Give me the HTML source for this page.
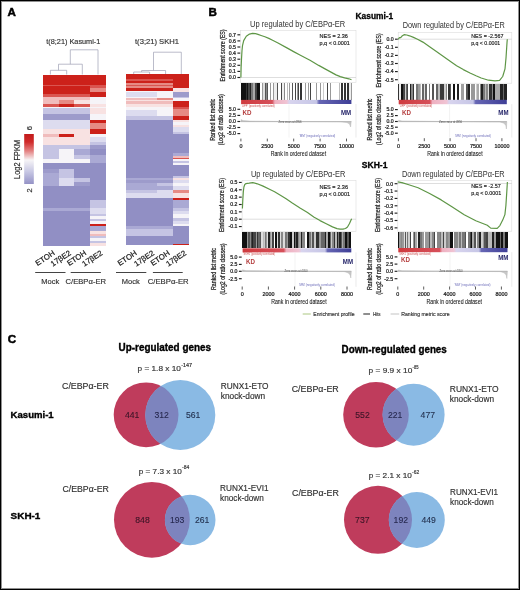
<!DOCTYPE html><html><head><meta charset="utf-8"><style>html,body{margin:0;padding:0;background:#fff;}svg{display:block;will-change:transform;}text{font-family:"Liberation Sans",sans-serif;}</style></head><body>
<svg width="520" height="590" viewBox="0 0 520 590">
<rect x="0" y="0" width="520" height="590" fill="#fff"/>
<text x="7.4" y="15.8" font-size="11.6" text-anchor="start" font-weight="bold" fill="#000" stroke="#000" stroke-width="0.5">A</text>
<text x="73.3" y="44.3" font-size="7.5" text-anchor="middle" fill="#333" textLength="54" lengthAdjust="spacingAndGlyphs" stroke="#333" stroke-width="0.16">t(8;21) Kasumi-1</text>
<text x="157" y="44.3" font-size="7.5" text-anchor="middle" fill="#333" textLength="44" lengthAdjust="spacingAndGlyphs" stroke="#333" stroke-width="0.16">t(3;21) SKH1</text>
<path d="M70.3 64.2 V49.8 H98 V74.5 M58.5 70.3 V64.2 H82.3 V74.5 M50.4 74.5 V70.3 H66.7 V74.5" stroke="#a4a6b8" stroke-width="0.75" fill="none"/>
<path d="M153.5 70.5 V52.2 H181.3 V74.3 M141.6 72 V70.5 H165.6 V74.3 M133.7 74.3 V72 H149.6 V74.3" stroke="#a4a6b8" stroke-width="0.75" fill="none"/>
<rect x="43.20" y="74.5" width="15.68" height="10.05" fill="#cc211a" shape-rendering="crispEdges"/>
<rect x="58.83" y="74.5" width="15.68" height="10.05" fill="#cc211a" shape-rendering="crispEdges"/>
<rect x="74.45" y="74.5" width="15.68" height="10.05" fill="#cc211a" shape-rendering="crispEdges"/>
<rect x="90.08" y="74.5" width="15.68" height="10.05" fill="#cc211a" shape-rendering="crispEdges"/>
<rect x="43.20" y="84.5" width="15.68" height="1.05" fill="#da5550" shape-rendering="crispEdges"/>
<rect x="58.83" y="84.5" width="15.68" height="1.05" fill="#da5550" shape-rendering="crispEdges"/>
<rect x="74.45" y="84.5" width="15.68" height="1.05" fill="#da5550" shape-rendering="crispEdges"/>
<rect x="90.08" y="84.5" width="15.68" height="1.05" fill="#da5550" shape-rendering="crispEdges"/>
<rect x="43.20" y="85.5" width="15.68" height="2.55" fill="#cc211a" shape-rendering="crispEdges"/>
<rect x="58.83" y="85.5" width="15.68" height="2.55" fill="#cc211a" shape-rendering="crispEdges"/>
<rect x="74.45" y="85.5" width="15.68" height="2.55" fill="#cc211a" shape-rendering="crispEdges"/>
<rect x="90.08" y="85.5" width="15.68" height="2.55" fill="#da5550" shape-rendering="crispEdges"/>
<rect x="43.20" y="88" width="15.68" height="3.55" fill="#cc211a" shape-rendering="crispEdges"/>
<rect x="58.83" y="88" width="15.68" height="3.55" fill="#cc211a" shape-rendering="crispEdges"/>
<rect x="74.45" y="88" width="15.68" height="3.55" fill="#cc211a" shape-rendering="crispEdges"/>
<rect x="90.08" y="88" width="15.68" height="3.55" fill="#e68a84" shape-rendering="crispEdges"/>
<rect x="43.20" y="91.5" width="15.68" height="2.15" fill="#cc211a" shape-rendering="crispEdges"/>
<rect x="58.83" y="91.5" width="15.68" height="2.15" fill="#cc211a" shape-rendering="crispEdges"/>
<rect x="74.45" y="91.5" width="15.68" height="2.15" fill="#cc211a" shape-rendering="crispEdges"/>
<rect x="90.08" y="91.5" width="15.68" height="2.15" fill="#cc211a" shape-rendering="crispEdges"/>
<rect x="43.20" y="93.6" width="15.68" height="3.85" fill="#da5550" shape-rendering="crispEdges"/>
<rect x="58.83" y="93.6" width="15.68" height="3.85" fill="#da5550" shape-rendering="crispEdges"/>
<rect x="74.45" y="93.6" width="15.68" height="3.85" fill="#da5550" shape-rendering="crispEdges"/>
<rect x="90.08" y="93.6" width="15.68" height="3.85" fill="#cc211a" shape-rendering="crispEdges"/>
<rect x="43.20" y="97.4" width="15.68" height="2.35" fill="#f0bcbc" shape-rendering="crispEdges"/>
<rect x="58.83" y="97.4" width="15.68" height="2.35" fill="#f0bcbc" shape-rendering="crispEdges"/>
<rect x="74.45" y="97.4" width="15.68" height="2.35" fill="#f0bcbc" shape-rendering="crispEdges"/>
<rect x="90.08" y="97.4" width="15.68" height="2.35" fill="#f6f4f8" shape-rendering="crispEdges"/>
<rect x="43.20" y="99.7" width="15.68" height="3.85" fill="#f0bcbc" shape-rendering="crispEdges"/>
<rect x="58.83" y="99.7" width="15.68" height="3.85" fill="#e68a84" shape-rendering="crispEdges"/>
<rect x="74.45" y="99.7" width="15.68" height="3.85" fill="#f8e2e2" shape-rendering="crispEdges"/>
<rect x="90.08" y="99.7" width="15.68" height="3.85" fill="#f6f4f8" shape-rendering="crispEdges"/>
<rect x="43.20" y="103.5" width="15.68" height="3.85" fill="#da5550" shape-rendering="crispEdges"/>
<rect x="58.83" y="103.5" width="15.68" height="3.85" fill="#cc211a" shape-rendering="crispEdges"/>
<rect x="74.45" y="103.5" width="15.68" height="3.85" fill="#da5550" shape-rendering="crispEdges"/>
<rect x="90.08" y="103.5" width="15.68" height="3.85" fill="#f8e2e2" shape-rendering="crispEdges"/>
<rect x="43.20" y="107.3" width="15.68" height="0.75" fill="#f6f4f8" shape-rendering="crispEdges"/>
<rect x="58.83" y="107.3" width="15.68" height="0.75" fill="#f6f4f8" shape-rendering="crispEdges"/>
<rect x="74.45" y="107.3" width="15.68" height="0.75" fill="#f6f4f8" shape-rendering="crispEdges"/>
<rect x="90.08" y="107.3" width="15.68" height="0.75" fill="#f6f4f8" shape-rendering="crispEdges"/>
<rect x="43.20" y="108" width="15.68" height="6.05" fill="#c5c4e3" shape-rendering="crispEdges"/>
<rect x="58.83" y="108" width="15.68" height="6.05" fill="#c5c4e3" shape-rendering="crispEdges"/>
<rect x="74.45" y="108" width="15.68" height="6.05" fill="#c5c4e3" shape-rendering="crispEdges"/>
<rect x="90.08" y="108" width="15.68" height="6.05" fill="#f8e2e2" shape-rendering="crispEdges"/>
<rect x="43.20" y="114" width="15.68" height="6.35" fill="#9d9bcb" shape-rendering="crispEdges"/>
<rect x="58.83" y="114" width="15.68" height="6.35" fill="#9d9bcb" shape-rendering="crispEdges"/>
<rect x="74.45" y="114" width="15.68" height="6.35" fill="#9d9bcb" shape-rendering="crispEdges"/>
<rect x="90.08" y="114" width="15.68" height="6.35" fill="#f6f4f8" shape-rendering="crispEdges"/>
<rect x="43.20" y="120.3" width="15.68" height="2.35" fill="#dddcef" shape-rendering="crispEdges"/>
<rect x="58.83" y="120.3" width="15.68" height="2.35" fill="#dddcef" shape-rendering="crispEdges"/>
<rect x="74.45" y="120.3" width="15.68" height="2.35" fill="#dddcef" shape-rendering="crispEdges"/>
<rect x="90.08" y="120.3" width="15.68" height="2.35" fill="#cc211a" shape-rendering="crispEdges"/>
<rect x="43.20" y="122.6" width="15.68" height="6.15" fill="#dddcef" shape-rendering="crispEdges"/>
<rect x="58.83" y="122.6" width="15.68" height="6.15" fill="#dddcef" shape-rendering="crispEdges"/>
<rect x="74.45" y="122.6" width="15.68" height="6.15" fill="#dddcef" shape-rendering="crispEdges"/>
<rect x="90.08" y="122.6" width="15.68" height="6.15" fill="#e68a84" shape-rendering="crispEdges"/>
<rect x="43.20" y="128.7" width="15.68" height="5.35" fill="#f8e2e2" shape-rendering="crispEdges"/>
<rect x="58.83" y="128.7" width="15.68" height="5.35" fill="#f8e2e2" shape-rendering="crispEdges"/>
<rect x="74.45" y="128.7" width="15.68" height="5.35" fill="#f8e2e2" shape-rendering="crispEdges"/>
<rect x="90.08" y="128.7" width="15.68" height="5.35" fill="#cc211a" shape-rendering="crispEdges"/>
<rect x="43.20" y="134" width="15.68" height="3.05" fill="#f0bcbc" shape-rendering="crispEdges"/>
<rect x="58.83" y="134" width="15.68" height="3.05" fill="#cc211a" shape-rendering="crispEdges"/>
<rect x="74.45" y="134" width="15.68" height="3.05" fill="#f8e2e2" shape-rendering="crispEdges"/>
<rect x="90.08" y="134" width="15.68" height="3.05" fill="#f6f4f8" shape-rendering="crispEdges"/>
<rect x="43.20" y="137" width="15.68" height="4.65" fill="#f8e2e2" shape-rendering="crispEdges"/>
<rect x="58.83" y="137" width="15.68" height="4.65" fill="#f8e2e2" shape-rendering="crispEdges"/>
<rect x="74.45" y="137" width="15.68" height="4.65" fill="#f8e2e2" shape-rendering="crispEdges"/>
<rect x="90.08" y="137" width="15.68" height="4.65" fill="#dddcef" shape-rendering="crispEdges"/>
<rect x="43.20" y="141.6" width="15.68" height="3.15" fill="#f8e2e2" shape-rendering="crispEdges"/>
<rect x="58.83" y="141.6" width="15.68" height="3.15" fill="#f8e2e2" shape-rendering="crispEdges"/>
<rect x="74.45" y="141.6" width="15.68" height="3.15" fill="#f8e2e2" shape-rendering="crispEdges"/>
<rect x="90.08" y="141.6" width="15.68" height="3.15" fill="#c5c4e3" shape-rendering="crispEdges"/>
<rect x="43.20" y="144.7" width="15.68" height="4.65" fill="#c5c4e3" shape-rendering="crispEdges"/>
<rect x="58.83" y="144.7" width="15.68" height="4.65" fill="#c5c4e3" shape-rendering="crispEdges"/>
<rect x="74.45" y="144.7" width="15.68" height="4.65" fill="#c5c4e3" shape-rendering="crispEdges"/>
<rect x="90.08" y="144.7" width="15.68" height="4.65" fill="#9d9bcb" shape-rendering="crispEdges"/>
<rect x="43.20" y="149.3" width="15.68" height="5.75" fill="#c5c4e3" shape-rendering="crispEdges"/>
<rect x="58.83" y="149.3" width="15.68" height="5.75" fill="#f6f4f8" shape-rendering="crispEdges"/>
<rect x="74.45" y="149.3" width="15.68" height="5.75" fill="#aaa9d4" shape-rendering="crispEdges"/>
<rect x="90.08" y="149.3" width="15.68" height="5.75" fill="#918fc4" shape-rendering="crispEdges"/>
<rect x="43.20" y="155" width="15.68" height="4.05" fill="#c5c4e3" shape-rendering="crispEdges"/>
<rect x="58.83" y="155" width="15.68" height="4.05" fill="#f6f4f8" shape-rendering="crispEdges"/>
<rect x="74.45" y="155" width="15.68" height="4.05" fill="#c5c4e3" shape-rendering="crispEdges"/>
<rect x="90.08" y="155" width="15.68" height="4.05" fill="#aaa9d4" shape-rendering="crispEdges"/>
<rect x="43.20" y="159" width="15.68" height="4.05" fill="#f6f4f8" shape-rendering="crispEdges"/>
<rect x="58.83" y="159" width="15.68" height="4.05" fill="#f6f4f8" shape-rendering="crispEdges"/>
<rect x="74.45" y="159" width="15.68" height="4.05" fill="#f6f4f8" shape-rendering="crispEdges"/>
<rect x="90.08" y="159" width="15.68" height="4.05" fill="#aaa9d4" shape-rendering="crispEdges"/>
<rect x="43.20" y="163" width="15.68" height="5.75" fill="#918fc4" shape-rendering="crispEdges"/>
<rect x="58.83" y="163" width="15.68" height="5.75" fill="#918fc4" shape-rendering="crispEdges"/>
<rect x="74.45" y="163" width="15.68" height="5.75" fill="#918fc4" shape-rendering="crispEdges"/>
<rect x="90.08" y="163" width="15.68" height="5.75" fill="#918fc4" shape-rendering="crispEdges"/>
<rect x="43.20" y="168.7" width="15.68" height="4.05" fill="#9d9bcb" shape-rendering="crispEdges"/>
<rect x="58.83" y="168.7" width="15.68" height="4.05" fill="#c5c4e3" shape-rendering="crispEdges"/>
<rect x="74.45" y="168.7" width="15.68" height="4.05" fill="#918fc4" shape-rendering="crispEdges"/>
<rect x="90.08" y="168.7" width="15.68" height="4.05" fill="#918fc4" shape-rendering="crispEdges"/>
<rect x="43.20" y="172.7" width="15.68" height="4.85" fill="#aaa9d4" shape-rendering="crispEdges"/>
<rect x="58.83" y="172.7" width="15.68" height="4.85" fill="#c5c4e3" shape-rendering="crispEdges"/>
<rect x="74.45" y="172.7" width="15.68" height="4.85" fill="#918fc4" shape-rendering="crispEdges"/>
<rect x="90.08" y="172.7" width="15.68" height="4.85" fill="#918fc4" shape-rendering="crispEdges"/>
<rect x="43.20" y="177.5" width="15.68" height="4.15" fill="#aaa9d4" shape-rendering="crispEdges"/>
<rect x="58.83" y="177.5" width="15.68" height="4.15" fill="#dddcef" shape-rendering="crispEdges"/>
<rect x="74.45" y="177.5" width="15.68" height="4.15" fill="#c5c4e3" shape-rendering="crispEdges"/>
<rect x="90.08" y="177.5" width="15.68" height="4.15" fill="#918fc4" shape-rendering="crispEdges"/>
<rect x="43.20" y="181.6" width="15.68" height="4.85" fill="#aaa9d4" shape-rendering="crispEdges"/>
<rect x="58.83" y="181.6" width="15.68" height="4.85" fill="#dddcef" shape-rendering="crispEdges"/>
<rect x="74.45" y="181.6" width="15.68" height="4.85" fill="#9d9bcb" shape-rendering="crispEdges"/>
<rect x="90.08" y="181.6" width="15.68" height="4.85" fill="#918fc4" shape-rendering="crispEdges"/>
<rect x="43.20" y="186.4" width="15.68" height="13.65" fill="#918fc4" shape-rendering="crispEdges"/>
<rect x="58.83" y="186.4" width="15.68" height="13.65" fill="#918fc4" shape-rendering="crispEdges"/>
<rect x="74.45" y="186.4" width="15.68" height="13.65" fill="#918fc4" shape-rendering="crispEdges"/>
<rect x="90.08" y="186.4" width="15.68" height="13.65" fill="#918fc4" shape-rendering="crispEdges"/>
<rect x="43.20" y="200" width="15.68" height="8.05" fill="#918fc4" shape-rendering="crispEdges"/>
<rect x="58.83" y="200" width="15.68" height="8.05" fill="#918fc4" shape-rendering="crispEdges"/>
<rect x="74.45" y="200" width="15.68" height="8.05" fill="#918fc4" shape-rendering="crispEdges"/>
<rect x="90.08" y="200" width="15.68" height="8.05" fill="#c5c4e3" shape-rendering="crispEdges"/>
<rect x="43.20" y="208" width="15.68" height="2.55" fill="#aaa9d4" shape-rendering="crispEdges"/>
<rect x="58.83" y="208" width="15.68" height="2.55" fill="#aaa9d4" shape-rendering="crispEdges"/>
<rect x="74.45" y="208" width="15.68" height="2.55" fill="#aaa9d4" shape-rendering="crispEdges"/>
<rect x="90.08" y="208" width="15.68" height="2.55" fill="#dddcef" shape-rendering="crispEdges"/>
<rect x="43.20" y="210.5" width="15.68" height="3.55" fill="#918fc4" shape-rendering="crispEdges"/>
<rect x="58.83" y="210.5" width="15.68" height="3.55" fill="#918fc4" shape-rendering="crispEdges"/>
<rect x="74.45" y="210.5" width="15.68" height="3.55" fill="#918fc4" shape-rendering="crispEdges"/>
<rect x="90.08" y="210.5" width="15.68" height="3.55" fill="#dddcef" shape-rendering="crispEdges"/>
<rect x="43.20" y="214" width="15.68" height="2.05" fill="#918fc4" shape-rendering="crispEdges"/>
<rect x="58.83" y="214" width="15.68" height="2.05" fill="#918fc4" shape-rendering="crispEdges"/>
<rect x="74.45" y="214" width="15.68" height="2.05" fill="#918fc4" shape-rendering="crispEdges"/>
<rect x="90.08" y="214" width="15.68" height="2.05" fill="#c5c4e3" shape-rendering="crispEdges"/>
<rect x="43.20" y="216" width="15.68" height="3.05" fill="#918fc4" shape-rendering="crispEdges"/>
<rect x="58.83" y="216" width="15.68" height="3.05" fill="#918fc4" shape-rendering="crispEdges"/>
<rect x="74.45" y="216" width="15.68" height="3.05" fill="#918fc4" shape-rendering="crispEdges"/>
<rect x="90.08" y="216" width="15.68" height="3.05" fill="#f6f4f8" shape-rendering="crispEdges"/>
<rect x="43.20" y="219" width="15.68" height="2.05" fill="#918fc4" shape-rendering="crispEdges"/>
<rect x="58.83" y="219" width="15.68" height="2.05" fill="#918fc4" shape-rendering="crispEdges"/>
<rect x="74.45" y="219" width="15.68" height="2.05" fill="#918fc4" shape-rendering="crispEdges"/>
<rect x="90.08" y="219" width="15.68" height="2.05" fill="#c5c4e3" shape-rendering="crispEdges"/>
<rect x="43.20" y="221" width="15.68" height="3.05" fill="#918fc4" shape-rendering="crispEdges"/>
<rect x="58.83" y="221" width="15.68" height="3.05" fill="#918fc4" shape-rendering="crispEdges"/>
<rect x="74.45" y="221" width="15.68" height="3.05" fill="#918fc4" shape-rendering="crispEdges"/>
<rect x="90.08" y="221" width="15.68" height="3.05" fill="#f6f4f8" shape-rendering="crispEdges"/>
<rect x="43.20" y="224" width="15.68" height="2.05" fill="#918fc4" shape-rendering="crispEdges"/>
<rect x="58.83" y="224" width="15.68" height="2.05" fill="#918fc4" shape-rendering="crispEdges"/>
<rect x="74.45" y="224" width="15.68" height="2.05" fill="#918fc4" shape-rendering="crispEdges"/>
<rect x="90.08" y="224" width="15.68" height="2.05" fill="#cc211a" shape-rendering="crispEdges"/>
<rect x="43.20" y="226" width="15.68" height="4.75" fill="#918fc4" shape-rendering="crispEdges"/>
<rect x="58.83" y="226" width="15.68" height="4.75" fill="#918fc4" shape-rendering="crispEdges"/>
<rect x="74.45" y="226" width="15.68" height="4.75" fill="#918fc4" shape-rendering="crispEdges"/>
<rect x="90.08" y="226" width="15.68" height="4.75" fill="#aaa9d4" shape-rendering="crispEdges"/>
<rect x="43.20" y="230.7" width="15.68" height="3.25" fill="#918fc4" shape-rendering="crispEdges"/>
<rect x="58.83" y="230.7" width="15.68" height="3.25" fill="#918fc4" shape-rendering="crispEdges"/>
<rect x="74.45" y="230.7" width="15.68" height="3.25" fill="#918fc4" shape-rendering="crispEdges"/>
<rect x="90.08" y="230.7" width="15.68" height="3.25" fill="#f8e2e2" shape-rendering="crispEdges"/>
<rect x="43.20" y="233.9" width="15.68" height="1.65" fill="#918fc4" shape-rendering="crispEdges"/>
<rect x="58.83" y="233.9" width="15.68" height="1.65" fill="#918fc4" shape-rendering="crispEdges"/>
<rect x="74.45" y="233.9" width="15.68" height="1.65" fill="#918fc4" shape-rendering="crispEdges"/>
<rect x="90.08" y="233.9" width="15.68" height="1.65" fill="#f0bcbc" shape-rendering="crispEdges"/>
<rect x="43.20" y="235.5" width="15.68" height="2.55" fill="#918fc4" shape-rendering="crispEdges"/>
<rect x="58.83" y="235.5" width="15.68" height="2.55" fill="#918fc4" shape-rendering="crispEdges"/>
<rect x="74.45" y="235.5" width="15.68" height="2.55" fill="#918fc4" shape-rendering="crispEdges"/>
<rect x="90.08" y="235.5" width="15.68" height="2.55" fill="#c5c4e3" shape-rendering="crispEdges"/>
<rect x="43.20" y="238" width="15.68" height="3.05" fill="#918fc4" shape-rendering="crispEdges"/>
<rect x="58.83" y="238" width="15.68" height="3.05" fill="#918fc4" shape-rendering="crispEdges"/>
<rect x="74.45" y="238" width="15.68" height="3.05" fill="#918fc4" shape-rendering="crispEdges"/>
<rect x="90.08" y="238" width="15.68" height="3.05" fill="#f6f4f8" shape-rendering="crispEdges"/>
<rect x="43.20" y="241" width="15.68" height="2.05" fill="#918fc4" shape-rendering="crispEdges"/>
<rect x="58.83" y="241" width="15.68" height="2.05" fill="#918fc4" shape-rendering="crispEdges"/>
<rect x="74.45" y="241" width="15.68" height="2.05" fill="#918fc4" shape-rendering="crispEdges"/>
<rect x="90.08" y="241" width="15.68" height="2.05" fill="#c5c4e3" shape-rendering="crispEdges"/>
<rect x="43.20" y="243" width="15.68" height="2.55" fill="#918fc4" shape-rendering="crispEdges"/>
<rect x="58.83" y="243" width="15.68" height="2.55" fill="#918fc4" shape-rendering="crispEdges"/>
<rect x="74.45" y="243" width="15.68" height="2.55" fill="#918fc4" shape-rendering="crispEdges"/>
<rect x="90.08" y="243" width="15.68" height="2.55" fill="#f8e2e2" shape-rendering="crispEdges"/>
<rect x="125.80" y="74.3" width="15.88" height="4.85" fill="#cc211a" shape-rendering="crispEdges"/>
<rect x="141.62" y="74.3" width="15.88" height="4.85" fill="#cc211a" shape-rendering="crispEdges"/>
<rect x="157.45" y="74.3" width="15.88" height="4.85" fill="#cc211a" shape-rendering="crispEdges"/>
<rect x="173.27" y="74.3" width="15.88" height="4.85" fill="#cc211a" shape-rendering="crispEdges"/>
<rect x="125.80" y="79.1" width="15.88" height="2.35" fill="#da5550" shape-rendering="crispEdges"/>
<rect x="141.62" y="79.1" width="15.88" height="2.35" fill="#da5550" shape-rendering="crispEdges"/>
<rect x="157.45" y="79.1" width="15.88" height="2.35" fill="#da5550" shape-rendering="crispEdges"/>
<rect x="173.27" y="79.1" width="15.88" height="2.35" fill="#cc211a" shape-rendering="crispEdges"/>
<rect x="125.80" y="81.4" width="15.88" height="1.65" fill="#cc211a" shape-rendering="crispEdges"/>
<rect x="141.62" y="81.4" width="15.88" height="1.65" fill="#cc211a" shape-rendering="crispEdges"/>
<rect x="157.45" y="81.4" width="15.88" height="1.65" fill="#cc211a" shape-rendering="crispEdges"/>
<rect x="173.27" y="81.4" width="15.88" height="1.65" fill="#cc211a" shape-rendering="crispEdges"/>
<rect x="125.80" y="83" width="15.88" height="2.25" fill="#e68a84" shape-rendering="crispEdges"/>
<rect x="141.62" y="83" width="15.88" height="2.25" fill="#e68a84" shape-rendering="crispEdges"/>
<rect x="157.45" y="83" width="15.88" height="2.25" fill="#e68a84" shape-rendering="crispEdges"/>
<rect x="173.27" y="83" width="15.88" height="2.25" fill="#cc211a" shape-rendering="crispEdges"/>
<rect x="125.80" y="85.2" width="15.88" height="0.85" fill="#da5550" shape-rendering="crispEdges"/>
<rect x="141.62" y="85.2" width="15.88" height="0.85" fill="#da5550" shape-rendering="crispEdges"/>
<rect x="157.45" y="85.2" width="15.88" height="0.85" fill="#da5550" shape-rendering="crispEdges"/>
<rect x="173.27" y="85.2" width="15.88" height="0.85" fill="#cc211a" shape-rendering="crispEdges"/>
<rect x="125.80" y="86" width="15.88" height="1.55" fill="#e68a84" shape-rendering="crispEdges"/>
<rect x="141.62" y="86" width="15.88" height="1.55" fill="#e68a84" shape-rendering="crispEdges"/>
<rect x="157.45" y="86" width="15.88" height="1.55" fill="#e68a84" shape-rendering="crispEdges"/>
<rect x="173.27" y="86" width="15.88" height="1.55" fill="#cc211a" shape-rendering="crispEdges"/>
<rect x="125.80" y="87.5" width="15.88" height="0.85" fill="#cc211a" shape-rendering="crispEdges"/>
<rect x="141.62" y="87.5" width="15.88" height="0.85" fill="#cc211a" shape-rendering="crispEdges"/>
<rect x="157.45" y="87.5" width="15.88" height="0.85" fill="#cc211a" shape-rendering="crispEdges"/>
<rect x="173.27" y="87.5" width="15.88" height="0.85" fill="#cc211a" shape-rendering="crispEdges"/>
<rect x="125.80" y="88.3" width="15.88" height="2.35" fill="#cc211a" shape-rendering="crispEdges"/>
<rect x="141.62" y="88.3" width="15.88" height="2.35" fill="#cc211a" shape-rendering="crispEdges"/>
<rect x="157.45" y="88.3" width="15.88" height="2.35" fill="#cc211a" shape-rendering="crispEdges"/>
<rect x="173.27" y="88.3" width="15.88" height="2.35" fill="#f8e2e2" shape-rendering="crispEdges"/>
<rect x="125.80" y="90.6" width="15.88" height="1.55" fill="#f6f4f8" shape-rendering="crispEdges"/>
<rect x="141.62" y="90.6" width="15.88" height="1.55" fill="#f6f4f8" shape-rendering="crispEdges"/>
<rect x="157.45" y="90.6" width="15.88" height="1.55" fill="#f6f4f8" shape-rendering="crispEdges"/>
<rect x="173.27" y="90.6" width="15.88" height="1.55" fill="#f8e2e2" shape-rendering="crispEdges"/>
<rect x="125.80" y="92.1" width="15.88" height="4.65" fill="#dddcef" shape-rendering="crispEdges"/>
<rect x="141.62" y="92.1" width="15.88" height="4.65" fill="#dddcef" shape-rendering="crispEdges"/>
<rect x="157.45" y="92.1" width="15.88" height="4.65" fill="#f6f4f8" shape-rendering="crispEdges"/>
<rect x="173.27" y="92.1" width="15.88" height="4.65" fill="#9d9bcb" shape-rendering="crispEdges"/>
<rect x="125.80" y="96.7" width="15.88" height="1.55" fill="#f6f4f8" shape-rendering="crispEdges"/>
<rect x="141.62" y="96.7" width="15.88" height="1.55" fill="#f6f4f8" shape-rendering="crispEdges"/>
<rect x="157.45" y="96.7" width="15.88" height="1.55" fill="#f6f4f8" shape-rendering="crispEdges"/>
<rect x="173.27" y="96.7" width="15.88" height="1.55" fill="#c5c4e3" shape-rendering="crispEdges"/>
<rect x="125.80" y="98.2" width="15.88" height="1.55" fill="#f0bcbc" shape-rendering="crispEdges"/>
<rect x="141.62" y="98.2" width="15.88" height="1.55" fill="#f0bcbc" shape-rendering="crispEdges"/>
<rect x="157.45" y="98.2" width="15.88" height="1.55" fill="#e68a84" shape-rendering="crispEdges"/>
<rect x="173.27" y="98.2" width="15.88" height="1.55" fill="#f6f4f8" shape-rendering="crispEdges"/>
<rect x="125.80" y="99.7" width="15.88" height="1.65" fill="#f8e2e2" shape-rendering="crispEdges"/>
<rect x="141.62" y="99.7" width="15.88" height="1.65" fill="#f8e2e2" shape-rendering="crispEdges"/>
<rect x="157.45" y="99.7" width="15.88" height="1.65" fill="#f8e2e2" shape-rendering="crispEdges"/>
<rect x="173.27" y="99.7" width="15.88" height="1.65" fill="#f6f4f8" shape-rendering="crispEdges"/>
<rect x="125.80" y="101.3" width="15.88" height="3.05" fill="#f0bcbc" shape-rendering="crispEdges"/>
<rect x="141.62" y="101.3" width="15.88" height="3.05" fill="#f0bcbc" shape-rendering="crispEdges"/>
<rect x="157.45" y="101.3" width="15.88" height="3.05" fill="#f0bcbc" shape-rendering="crispEdges"/>
<rect x="173.27" y="101.3" width="15.88" height="3.05" fill="#cc211a" shape-rendering="crispEdges"/>
<rect x="125.80" y="104.3" width="15.88" height="2.35" fill="#f8e2e2" shape-rendering="crispEdges"/>
<rect x="141.62" y="104.3" width="15.88" height="2.35" fill="#f8e2e2" shape-rendering="crispEdges"/>
<rect x="157.45" y="104.3" width="15.88" height="2.35" fill="#f8e2e2" shape-rendering="crispEdges"/>
<rect x="173.27" y="104.3" width="15.88" height="2.35" fill="#cc211a" shape-rendering="crispEdges"/>
<rect x="125.80" y="106.6" width="15.88" height="2.35" fill="#f6f4f8" shape-rendering="crispEdges"/>
<rect x="141.62" y="106.6" width="15.88" height="2.35" fill="#f6f4f8" shape-rendering="crispEdges"/>
<rect x="157.45" y="106.6" width="15.88" height="2.35" fill="#f6f4f8" shape-rendering="crispEdges"/>
<rect x="173.27" y="106.6" width="15.88" height="2.35" fill="#da5550" shape-rendering="crispEdges"/>
<rect x="125.80" y="108.9" width="15.88" height="1.55" fill="#f6f4f8" shape-rendering="crispEdges"/>
<rect x="141.62" y="108.9" width="15.88" height="1.55" fill="#f6f4f8" shape-rendering="crispEdges"/>
<rect x="157.45" y="108.9" width="15.88" height="1.55" fill="#f6f4f8" shape-rendering="crispEdges"/>
<rect x="173.27" y="108.9" width="15.88" height="1.55" fill="#e68a84" shape-rendering="crispEdges"/>
<rect x="125.80" y="110.4" width="15.88" height="5.35" fill="#dddcef" shape-rendering="crispEdges"/>
<rect x="141.62" y="110.4" width="15.88" height="5.35" fill="#dddcef" shape-rendering="crispEdges"/>
<rect x="157.45" y="110.4" width="15.88" height="5.35" fill="#f6f4f8" shape-rendering="crispEdges"/>
<rect x="173.27" y="110.4" width="15.88" height="5.35" fill="#e68a84" shape-rendering="crispEdges"/>
<rect x="125.80" y="115.7" width="15.88" height="3.85" fill="#c5c4e3" shape-rendering="crispEdges"/>
<rect x="141.62" y="115.7" width="15.88" height="3.85" fill="#c5c4e3" shape-rendering="crispEdges"/>
<rect x="157.45" y="115.7" width="15.88" height="3.85" fill="#c5c4e3" shape-rendering="crispEdges"/>
<rect x="173.27" y="115.7" width="15.88" height="3.85" fill="#cc211a" shape-rendering="crispEdges"/>
<rect x="125.80" y="119.5" width="15.88" height="2.05" fill="#918fc4" shape-rendering="crispEdges"/>
<rect x="141.62" y="119.5" width="15.88" height="2.05" fill="#918fc4" shape-rendering="crispEdges"/>
<rect x="157.45" y="119.5" width="15.88" height="2.05" fill="#918fc4" shape-rendering="crispEdges"/>
<rect x="173.27" y="119.5" width="15.88" height="2.05" fill="#f8e2e2" shape-rendering="crispEdges"/>
<rect x="125.80" y="121.5" width="15.88" height="3.35" fill="#918fc4" shape-rendering="crispEdges"/>
<rect x="141.62" y="121.5" width="15.88" height="3.35" fill="#918fc4" shape-rendering="crispEdges"/>
<rect x="157.45" y="121.5" width="15.88" height="3.35" fill="#918fc4" shape-rendering="crispEdges"/>
<rect x="173.27" y="121.5" width="15.88" height="3.35" fill="#f6f4f8" shape-rendering="crispEdges"/>
<rect x="125.80" y="124.8" width="15.88" height="2.65" fill="#918fc4" shape-rendering="crispEdges"/>
<rect x="141.62" y="124.8" width="15.88" height="2.65" fill="#918fc4" shape-rendering="crispEdges"/>
<rect x="157.45" y="124.8" width="15.88" height="2.65" fill="#918fc4" shape-rendering="crispEdges"/>
<rect x="173.27" y="124.8" width="15.88" height="2.65" fill="#f8e2e2" shape-rendering="crispEdges"/>
<rect x="125.80" y="127.4" width="15.88" height="4.65" fill="#918fc4" shape-rendering="crispEdges"/>
<rect x="141.62" y="127.4" width="15.88" height="4.65" fill="#918fc4" shape-rendering="crispEdges"/>
<rect x="157.45" y="127.4" width="15.88" height="4.65" fill="#918fc4" shape-rendering="crispEdges"/>
<rect x="173.27" y="127.4" width="15.88" height="4.65" fill="#dddcef" shape-rendering="crispEdges"/>
<rect x="125.80" y="132" width="15.88" height="2.05" fill="#918fc4" shape-rendering="crispEdges"/>
<rect x="141.62" y="132" width="15.88" height="2.05" fill="#918fc4" shape-rendering="crispEdges"/>
<rect x="157.45" y="132" width="15.88" height="2.05" fill="#918fc4" shape-rendering="crispEdges"/>
<rect x="173.27" y="132" width="15.88" height="2.05" fill="#c5c4e3" shape-rendering="crispEdges"/>
<rect x="125.80" y="134" width="15.88" height="19.05" fill="#918fc4" shape-rendering="crispEdges"/>
<rect x="141.62" y="134" width="15.88" height="19.05" fill="#918fc4" shape-rendering="crispEdges"/>
<rect x="157.45" y="134" width="15.88" height="19.05" fill="#918fc4" shape-rendering="crispEdges"/>
<rect x="173.27" y="134" width="15.88" height="19.05" fill="#918fc4" shape-rendering="crispEdges"/>
<rect x="125.80" y="153" width="15.88" height="3.05" fill="#918fc4" shape-rendering="crispEdges"/>
<rect x="141.62" y="153" width="15.88" height="3.05" fill="#918fc4" shape-rendering="crispEdges"/>
<rect x="157.45" y="153" width="15.88" height="3.05" fill="#918fc4" shape-rendering="crispEdges"/>
<rect x="173.27" y="153" width="15.88" height="3.05" fill="#aaa9d4" shape-rendering="crispEdges"/>
<rect x="125.80" y="156" width="15.88" height="2.05" fill="#918fc4" shape-rendering="crispEdges"/>
<rect x="141.62" y="156" width="15.88" height="2.05" fill="#918fc4" shape-rendering="crispEdges"/>
<rect x="157.45" y="156" width="15.88" height="2.05" fill="#918fc4" shape-rendering="crispEdges"/>
<rect x="173.27" y="156" width="15.88" height="2.05" fill="#f0bcbc" shape-rendering="crispEdges"/>
<rect x="125.80" y="158" width="15.88" height="1.45" fill="#918fc4" shape-rendering="crispEdges"/>
<rect x="141.62" y="158" width="15.88" height="1.45" fill="#918fc4" shape-rendering="crispEdges"/>
<rect x="157.45" y="158" width="15.88" height="1.45" fill="#918fc4" shape-rendering="crispEdges"/>
<rect x="173.27" y="158" width="15.88" height="1.45" fill="#da5550" shape-rendering="crispEdges"/>
<rect x="125.80" y="159.4" width="15.88" height="1.35" fill="#918fc4" shape-rendering="crispEdges"/>
<rect x="141.62" y="159.4" width="15.88" height="1.35" fill="#918fc4" shape-rendering="crispEdges"/>
<rect x="157.45" y="159.4" width="15.88" height="1.35" fill="#918fc4" shape-rendering="crispEdges"/>
<rect x="173.27" y="159.4" width="15.88" height="1.35" fill="#f6f4f8" shape-rendering="crispEdges"/>
<rect x="125.80" y="160.7" width="15.88" height="2.05" fill="#918fc4" shape-rendering="crispEdges"/>
<rect x="141.62" y="160.7" width="15.88" height="2.05" fill="#918fc4" shape-rendering="crispEdges"/>
<rect x="157.45" y="160.7" width="15.88" height="2.05" fill="#918fc4" shape-rendering="crispEdges"/>
<rect x="173.27" y="160.7" width="15.88" height="2.05" fill="#c5c4e3" shape-rendering="crispEdges"/>
<rect x="125.80" y="162.7" width="15.88" height="2.65" fill="#918fc4" shape-rendering="crispEdges"/>
<rect x="141.62" y="162.7" width="15.88" height="2.65" fill="#918fc4" shape-rendering="crispEdges"/>
<rect x="157.45" y="162.7" width="15.88" height="2.65" fill="#918fc4" shape-rendering="crispEdges"/>
<rect x="173.27" y="162.7" width="15.88" height="2.65" fill="#f6f4f8" shape-rendering="crispEdges"/>
<rect x="125.80" y="165.3" width="15.88" height="11.15" fill="#918fc4" shape-rendering="crispEdges"/>
<rect x="141.62" y="165.3" width="15.88" height="11.15" fill="#918fc4" shape-rendering="crispEdges"/>
<rect x="157.45" y="165.3" width="15.88" height="11.15" fill="#918fc4" shape-rendering="crispEdges"/>
<rect x="173.27" y="165.3" width="15.88" height="11.15" fill="#918fc4" shape-rendering="crispEdges"/>
<rect x="125.80" y="176.4" width="15.88" height="1.35" fill="#918fc4" shape-rendering="crispEdges"/>
<rect x="141.62" y="176.4" width="15.88" height="1.35" fill="#918fc4" shape-rendering="crispEdges"/>
<rect x="157.45" y="176.4" width="15.88" height="1.35" fill="#918fc4" shape-rendering="crispEdges"/>
<rect x="173.27" y="176.4" width="15.88" height="1.35" fill="#c5c4e3" shape-rendering="crispEdges"/>
<rect x="125.80" y="177.7" width="15.88" height="2.75" fill="#aaa9d4" shape-rendering="crispEdges"/>
<rect x="141.62" y="177.7" width="15.88" height="2.75" fill="#aaa9d4" shape-rendering="crispEdges"/>
<rect x="157.45" y="177.7" width="15.88" height="2.75" fill="#aaa9d4" shape-rendering="crispEdges"/>
<rect x="173.27" y="177.7" width="15.88" height="2.75" fill="#f8e2e2" shape-rendering="crispEdges"/>
<rect x="125.80" y="180.4" width="15.88" height="2.95" fill="#9d9bcb" shape-rendering="crispEdges"/>
<rect x="141.62" y="180.4" width="15.88" height="2.95" fill="#9d9bcb" shape-rendering="crispEdges"/>
<rect x="157.45" y="180.4" width="15.88" height="2.95" fill="#9d9bcb" shape-rendering="crispEdges"/>
<rect x="173.27" y="180.4" width="15.88" height="2.95" fill="#dddcef" shape-rendering="crispEdges"/>
<rect x="125.80" y="183.3" width="15.88" height="2.65" fill="#aaa9d4" shape-rendering="crispEdges"/>
<rect x="141.62" y="183.3" width="15.88" height="2.65" fill="#aaa9d4" shape-rendering="crispEdges"/>
<rect x="157.45" y="183.3" width="15.88" height="2.65" fill="#c5c4e3" shape-rendering="crispEdges"/>
<rect x="173.27" y="183.3" width="15.88" height="2.65" fill="#f6f4f8" shape-rendering="crispEdges"/>
<rect x="125.80" y="185.9" width="15.88" height="3.95" fill="#aaa9d4" shape-rendering="crispEdges"/>
<rect x="141.62" y="185.9" width="15.88" height="3.95" fill="#aaa9d4" shape-rendering="crispEdges"/>
<rect x="157.45" y="185.9" width="15.88" height="3.95" fill="#aaa9d4" shape-rendering="crispEdges"/>
<rect x="173.27" y="185.9" width="15.88" height="3.95" fill="#dddcef" shape-rendering="crispEdges"/>
<rect x="125.80" y="189.8" width="15.88" height="3.25" fill="#c5c4e3" shape-rendering="crispEdges"/>
<rect x="141.62" y="189.8" width="15.88" height="3.25" fill="#c5c4e3" shape-rendering="crispEdges"/>
<rect x="157.45" y="189.8" width="15.88" height="3.25" fill="#dddcef" shape-rendering="crispEdges"/>
<rect x="173.27" y="189.8" width="15.88" height="3.25" fill="#e68a84" shape-rendering="crispEdges"/>
<rect x="125.80" y="193" width="15.88" height="4.65" fill="#dddcef" shape-rendering="crispEdges"/>
<rect x="141.62" y="193" width="15.88" height="4.65" fill="#dddcef" shape-rendering="crispEdges"/>
<rect x="157.45" y="193" width="15.88" height="4.65" fill="#dddcef" shape-rendering="crispEdges"/>
<rect x="173.27" y="193" width="15.88" height="4.65" fill="#f8e2e2" shape-rendering="crispEdges"/>
<rect x="125.80" y="197.6" width="15.88" height="2.05" fill="#918fc4" shape-rendering="crispEdges"/>
<rect x="141.62" y="197.6" width="15.88" height="2.05" fill="#918fc4" shape-rendering="crispEdges"/>
<rect x="157.45" y="197.6" width="15.88" height="2.05" fill="#918fc4" shape-rendering="crispEdges"/>
<rect x="173.27" y="197.6" width="15.88" height="2.05" fill="#cc211a" shape-rendering="crispEdges"/>
<rect x="125.80" y="199.6" width="15.88" height="8.55" fill="#918fc4" shape-rendering="crispEdges"/>
<rect x="141.62" y="199.6" width="15.88" height="8.55" fill="#918fc4" shape-rendering="crispEdges"/>
<rect x="157.45" y="199.6" width="15.88" height="8.55" fill="#918fc4" shape-rendering="crispEdges"/>
<rect x="173.27" y="199.6" width="15.88" height="8.55" fill="#aaa9d4" shape-rendering="crispEdges"/>
<rect x="125.80" y="208.1" width="15.88" height="2.65" fill="#918fc4" shape-rendering="crispEdges"/>
<rect x="141.62" y="208.1" width="15.88" height="2.65" fill="#918fc4" shape-rendering="crispEdges"/>
<rect x="157.45" y="208.1" width="15.88" height="2.65" fill="#918fc4" shape-rendering="crispEdges"/>
<rect x="173.27" y="208.1" width="15.88" height="2.65" fill="#c5c4e3" shape-rendering="crispEdges"/>
<rect x="125.80" y="210.7" width="15.88" height="3.35" fill="#918fc4" shape-rendering="crispEdges"/>
<rect x="141.62" y="210.7" width="15.88" height="3.35" fill="#918fc4" shape-rendering="crispEdges"/>
<rect x="157.45" y="210.7" width="15.88" height="3.35" fill="#918fc4" shape-rendering="crispEdges"/>
<rect x="173.27" y="210.7" width="15.88" height="3.35" fill="#dddcef" shape-rendering="crispEdges"/>
<rect x="125.80" y="214" width="15.88" height="3.95" fill="#918fc4" shape-rendering="crispEdges"/>
<rect x="141.62" y="214" width="15.88" height="3.95" fill="#918fc4" shape-rendering="crispEdges"/>
<rect x="157.45" y="214" width="15.88" height="3.95" fill="#918fc4" shape-rendering="crispEdges"/>
<rect x="173.27" y="214" width="15.88" height="3.95" fill="#f6f4f8" shape-rendering="crispEdges"/>
<rect x="125.80" y="217.9" width="15.88" height="2.65" fill="#918fc4" shape-rendering="crispEdges"/>
<rect x="141.62" y="217.9" width="15.88" height="2.65" fill="#918fc4" shape-rendering="crispEdges"/>
<rect x="157.45" y="217.9" width="15.88" height="2.65" fill="#918fc4" shape-rendering="crispEdges"/>
<rect x="173.27" y="217.9" width="15.88" height="2.65" fill="#c5c4e3" shape-rendering="crispEdges"/>
<rect x="125.80" y="220.5" width="15.88" height="3.95" fill="#918fc4" shape-rendering="crispEdges"/>
<rect x="141.62" y="220.5" width="15.88" height="3.95" fill="#918fc4" shape-rendering="crispEdges"/>
<rect x="157.45" y="220.5" width="15.88" height="3.95" fill="#918fc4" shape-rendering="crispEdges"/>
<rect x="173.27" y="220.5" width="15.88" height="3.95" fill="#dddcef" shape-rendering="crispEdges"/>
<rect x="125.80" y="224.4" width="15.88" height="2.05" fill="#918fc4" shape-rendering="crispEdges"/>
<rect x="141.62" y="224.4" width="15.88" height="2.05" fill="#918fc4" shape-rendering="crispEdges"/>
<rect x="157.45" y="224.4" width="15.88" height="2.05" fill="#918fc4" shape-rendering="crispEdges"/>
<rect x="173.27" y="224.4" width="15.88" height="2.05" fill="#f6f4f8" shape-rendering="crispEdges"/>
<rect x="125.80" y="226.4" width="15.88" height="2.65" fill="#aaa9d4" shape-rendering="crispEdges"/>
<rect x="141.62" y="226.4" width="15.88" height="2.65" fill="#aaa9d4" shape-rendering="crispEdges"/>
<rect x="157.45" y="226.4" width="15.88" height="2.65" fill="#aaa9d4" shape-rendering="crispEdges"/>
<rect x="173.27" y="226.4" width="15.88" height="2.65" fill="#918fc4" shape-rendering="crispEdges"/>
<rect x="125.80" y="229" width="15.88" height="7.25" fill="#c5c4e3" shape-rendering="crispEdges"/>
<rect x="141.62" y="229" width="15.88" height="7.25" fill="#c5c4e3" shape-rendering="crispEdges"/>
<rect x="157.45" y="229" width="15.88" height="7.25" fill="#c5c4e3" shape-rendering="crispEdges"/>
<rect x="173.27" y="229" width="15.88" height="7.25" fill="#918fc4" shape-rendering="crispEdges"/>
<rect x="125.80" y="236.2" width="15.88" height="7.85" fill="#918fc4" shape-rendering="crispEdges"/>
<rect x="141.62" y="236.2" width="15.88" height="7.85" fill="#918fc4" shape-rendering="crispEdges"/>
<rect x="157.45" y="236.2" width="15.88" height="7.85" fill="#918fc4" shape-rendering="crispEdges"/>
<rect x="173.27" y="236.2" width="15.88" height="7.85" fill="#918fc4" shape-rendering="crispEdges"/>
<rect x="125.80" y="244" width="15.88" height="1.45" fill="#918fc4" shape-rendering="crispEdges"/>
<rect x="141.62" y="244" width="15.88" height="1.45" fill="#918fc4" shape-rendering="crispEdges"/>
<rect x="157.45" y="244" width="15.88" height="1.45" fill="#918fc4" shape-rendering="crispEdges"/>
<rect x="173.27" y="244" width="15.88" height="1.45" fill="#cc211a" shape-rendering="crispEdges"/>
<defs><linearGradient id="lg" x1="0" y1="0" x2="0" y2="1"><stop offset="0" stop-color="#c21a1a"/><stop offset="0.16" stop-color="#d02a2a"/><stop offset="0.34" stop-color="#e48282"/><stop offset="0.52" stop-color="#f6f4f6"/><stop offset="0.75" stop-color="#c8c8e4"/><stop offset="1" stop-color="#9492c6"/></linearGradient></defs>
<rect x="24.2" y="134" width="9.6" height="50" fill="url(#lg)"/>
<text x="0" y="0" font-size="7.5" text-anchor="middle" fill="#333" stroke="#333" stroke-width="0.16" transform="translate(31.6,128.2) rotate(-90)">6</text>
<text x="0" y="0" font-size="7.5" text-anchor="middle" fill="#333" stroke="#333" stroke-width="0.16" transform="translate(31.6,190.3) rotate(-90)">2</text>
<text x="0" y="0" font-size="8.2" text-anchor="middle" fill="#2a2a2a" textLength="39" lengthAdjust="spacingAndGlyphs" stroke="#2a2a2a" stroke-width="0.16" transform="translate(19.6,159.4) rotate(-90)">Log2 FPKM</text>
<text x="0" y="0" font-size="7.7" text-anchor="end" fill="#1a1a1a" stroke="#1a1a1a" stroke-width="0.22" transform="translate(55.3,254.3) rotate(-33.5)">ETOH</text>
<text x="0" y="0" font-size="7.7" text-anchor="end" fill="#1a1a1a" stroke="#1a1a1a" stroke-width="0.22" transform="translate(71.5,254.3) rotate(-33.5)">17βE2</text>
<text x="0" y="0" font-size="7.7" text-anchor="end" fill="#1a1a1a" stroke="#1a1a1a" stroke-width="0.22" transform="translate(86.9,254.3) rotate(-33.5)">ETOH</text>
<text x="0" y="0" font-size="7.7" text-anchor="end" fill="#1a1a1a" stroke="#1a1a1a" stroke-width="0.22" transform="translate(103.0,254.3) rotate(-33.5)">17βE2</text>
<text x="0" y="0" font-size="7.7" text-anchor="end" fill="#1a1a1a" stroke="#1a1a1a" stroke-width="0.22" transform="translate(137.5,254.3) rotate(-33.5)">ETOH</text>
<text x="0" y="0" font-size="7.7" text-anchor="end" fill="#1a1a1a" stroke="#1a1a1a" stroke-width="0.22" transform="translate(154.8,254.3) rotate(-33.5)">17βE2</text>
<text x="0" y="0" font-size="7.7" text-anchor="end" fill="#1a1a1a" stroke="#1a1a1a" stroke-width="0.22" transform="translate(170.4,254.3) rotate(-33.5)">ETOH</text>
<text x="0" y="0" font-size="7.7" text-anchor="end" fill="#1a1a1a" stroke="#1a1a1a" stroke-width="0.22" transform="translate(186.8,254.3) rotate(-33.5)">17βE2</text>
<path d="M35.2 272.5 H65.5 M70.7 272.5 H100.9 M116 272.5 H146.3 M152.9 272.5 H182.7" stroke="#444" stroke-width="1.1"/>
<text x="50.3" y="284" font-size="7.5" text-anchor="middle" fill="#333" stroke="#333" stroke-width="0.16">Mock</text>
<text x="85.8" y="284" font-size="7.5" text-anchor="middle" fill="#333" textLength="40.5" lengthAdjust="spacingAndGlyphs" stroke="#333" stroke-width="0.16">C/EBPα-ER</text>
<text x="130.8" y="284" font-size="7.5" text-anchor="middle" fill="#333" stroke="#333" stroke-width="0.16">Mock</text>
<text x="168.2" y="284" font-size="7.5" text-anchor="middle" fill="#333" textLength="41" lengthAdjust="spacingAndGlyphs" stroke="#333" stroke-width="0.16">C/EBPα-ER</text>
<text x="208.5" y="15.7" font-size="11.6" text-anchor="start" font-weight="bold" fill="#000" stroke="#000" stroke-width="0.5">B</text>
<text x="355.6" y="18.6" font-size="8.3" text-anchor="start" font-weight="bold" fill="#000" textLength="37.6" lengthAdjust="spacingAndGlyphs" stroke="#000" stroke-width="0.3">Kasumi-1</text>
<text x="361.8" y="167.7" font-size="8.3" text-anchor="start" font-weight="bold" fill="#000" textLength="25.6" lengthAdjust="spacingAndGlyphs" stroke="#000" stroke-width="0.3">SKH-1</text>
<text x="297.65" y="27.3" font-size="8.2" text-anchor="middle" fill="#333" textLength="95.3" lengthAdjust="spacingAndGlyphs">Up regulated by C/EBPα-ER</text>
<rect x="240.6" y="30.6" width="115.4" height="51.800000000000004" fill="none" stroke="#dcdcdc" stroke-width="0.6"/>
<line x1="240.6" y1="77.5" x2="356" y2="77.5" stroke="#c8c8c8" stroke-width="0.6"/>
<line x1="237.4" y1="34.8" x2="240.2" y2="34.8" stroke="#222" stroke-width="1.15"/>
<text x="236.0" y="36.599999999999994" font-size="5.2" text-anchor="end" fill="#1a1a1a" stroke="#1a1a1a" stroke-width="0.22">0.7</text>
<line x1="237.4" y1="40.9" x2="240.2" y2="40.9" stroke="#222" stroke-width="1.15"/>
<text x="236.0" y="42.699999999999996" font-size="5.2" text-anchor="end" fill="#1a1a1a" stroke="#1a1a1a" stroke-width="0.22">0.6</text>
<line x1="237.4" y1="47.0" x2="240.2" y2="47.0" stroke="#222" stroke-width="1.15"/>
<text x="236.0" y="48.8" font-size="5.2" text-anchor="end" fill="#1a1a1a" stroke="#1a1a1a" stroke-width="0.22">0.5</text>
<line x1="237.4" y1="53.1" x2="240.2" y2="53.1" stroke="#222" stroke-width="1.15"/>
<text x="236.0" y="54.9" font-size="5.2" text-anchor="end" fill="#1a1a1a" stroke="#1a1a1a" stroke-width="0.22">0.4</text>
<line x1="237.4" y1="59.2" x2="240.2" y2="59.2" stroke="#222" stroke-width="1.15"/>
<text x="236.0" y="61.0" font-size="5.2" text-anchor="end" fill="#1a1a1a" stroke="#1a1a1a" stroke-width="0.22">0.3</text>
<line x1="237.4" y1="65.3" x2="240.2" y2="65.3" stroke="#222" stroke-width="1.15"/>
<text x="236.0" y="67.1" font-size="5.2" text-anchor="end" fill="#1a1a1a" stroke="#1a1a1a" stroke-width="0.22">0.2</text>
<line x1="237.4" y1="71.4" x2="240.2" y2="71.4" stroke="#222" stroke-width="1.15"/>
<text x="236.0" y="73.2" font-size="5.2" text-anchor="end" fill="#1a1a1a" stroke="#1a1a1a" stroke-width="0.22">0.1</text>
<line x1="237.4" y1="77.5" x2="240.2" y2="77.5" stroke="#222" stroke-width="1.15"/>
<text x="236.0" y="79.3" font-size="5.2" text-anchor="end" fill="#1a1a1a" stroke="#1a1a1a" stroke-width="0.22">0.0</text>
<polyline points="240.9,77.5 241.1,68 241.5,59 242,50.5 242.5,45.6 243.7,40.6 246.3,36.2 249.5,34.1 252.5,33.3 255.5,33.7 258,34.4 261.1,35.5 264.9,36.8 268.8,38.4 272.6,40.3 278,43 286.9,47.9 293.6,51.6 300.4,55.2 307.1,58.7 310,60.2 318.7,65.4 327.3,70.1 336,74.9 340.3,76.6 344.6,77.9 348.9,78.8 351.5,79.7" fill="none" stroke="#5e9646" stroke-width="1.2" stroke-linejoin="round"/>
<rect x="241.0" y="83.2" width="5.05" height="16.700000000000003" fill="#111" shape-rendering="crispEdges"/>
<rect x="246.0" y="83.2" width="1.05" height="16.700000000000003" fill="#333" shape-rendering="crispEdges"/>
<rect x="247.0" y="83.2" width="1.05" height="16.700000000000003" fill="#111" shape-rendering="crispEdges"/>
<rect x="248.0" y="83.2" width="2.05" height="16.700000000000003" fill="#444" shape-rendering="crispEdges"/>
<rect x="250.0" y="83.2" width="1.05" height="16.700000000000003" fill="#222" shape-rendering="crispEdges"/>
<rect x="251.0" y="83.2" width="2.05" height="16.700000000000003" fill="#777" shape-rendering="crispEdges"/>
<rect x="253.0" y="83.2" width="2.05" height="16.700000000000003" fill="#aaa" shape-rendering="crispEdges"/>
<rect x="255.0" y="83.2" width="2.05" height="16.700000000000003" fill="#444" shape-rendering="crispEdges"/>
<rect x="257.0" y="83.2" width="3.05" height="16.700000000000003" fill="#111" shape-rendering="crispEdges"/>
<rect x="262.0" y="83.2" width="1.05" height="16.700000000000003" fill="#999" shape-rendering="crispEdges"/>
<rect x="263.0" y="83.2" width="2.05" height="16.700000000000003" fill="#ddd" shape-rendering="crispEdges"/>
<rect x="265.0" y="83.2" width="1.05" height="16.700000000000003" fill="#555" shape-rendering="crispEdges"/>
<rect x="266.0" y="83.2" width="1.05" height="16.700000000000003" fill="#888" shape-rendering="crispEdges"/>
<rect x="267.0" y="83.2" width="1.05" height="16.700000000000003" fill="#555" shape-rendering="crispEdges"/>
<rect x="270.0" y="83.2" width="1.05" height="16.700000000000003" fill="#999" shape-rendering="crispEdges"/>
<rect x="273.0" y="83.2" width="1.05" height="16.700000000000003" fill="#999" shape-rendering="crispEdges"/>
<rect x="274.0" y="83.2" width="3.05" height="16.700000000000003" fill="#eee" shape-rendering="crispEdges"/>
<rect x="277.0" y="83.2" width="1.05" height="16.700000000000003" fill="#555" shape-rendering="crispEdges"/>
<rect x="281.0" y="83.2" width="1.05" height="16.700000000000003" fill="#444" shape-rendering="crispEdges"/>
<rect x="282.0" y="83.2" width="2.05" height="16.700000000000003" fill="#eee" shape-rendering="crispEdges"/>
<rect x="284.0" y="83.2" width="1.05" height="16.700000000000003" fill="#888" shape-rendering="crispEdges"/>
<rect x="287.0" y="83.2" width="1.05" height="16.700000000000003" fill="#bbb" shape-rendering="crispEdges"/>
<rect x="289.0" y="83.2" width="1.05" height="16.700000000000003" fill="#999" shape-rendering="crispEdges"/>
<rect x="292.0" y="83.2" width="1.05" height="16.700000000000003" fill="#555" shape-rendering="crispEdges"/>
<rect x="295.0" y="83.2" width="1.05" height="16.700000000000003" fill="#444" shape-rendering="crispEdges"/>
<rect x="297.0" y="83.2" width="1.05" height="16.700000000000003" fill="#999" shape-rendering="crispEdges"/>
<rect x="298.0" y="83.2" width="1.05" height="16.700000000000003" fill="#444" shape-rendering="crispEdges"/>
<rect x="300.0" y="83.2" width="2.05" height="16.700000000000003" fill="#333" shape-rendering="crispEdges"/>
<rect x="305.0" y="83.2" width="1.05" height="16.700000000000003" fill="#999" shape-rendering="crispEdges"/>
<rect x="308.0" y="83.2" width="1.05" height="16.700000000000003" fill="#999" shape-rendering="crispEdges"/>
<rect x="310.0" y="83.2" width="1.05" height="16.700000000000003" fill="#444" shape-rendering="crispEdges"/>
<rect x="316.0" y="83.2" width="1.05" height="16.700000000000003" fill="#999" shape-rendering="crispEdges"/>
<rect x="320.0" y="83.2" width="1.05" height="16.700000000000003" fill="#999" shape-rendering="crispEdges"/>
<rect x="323.0" y="83.2" width="1.05" height="16.700000000000003" fill="#ccc" shape-rendering="crispEdges"/>
<rect x="327.0" y="83.2" width="1.05" height="16.700000000000003" fill="#444" shape-rendering="crispEdges"/>
<rect x="330.0" y="83.2" width="1.05" height="16.700000000000003" fill="#999" shape-rendering="crispEdges"/>
<rect x="339.0" y="83.2" width="1.05" height="16.700000000000003" fill="#bbb" shape-rendering="crispEdges"/>
<rect x="341.0" y="83.2" width="1.55" height="16.700000000000003" fill="#333" shape-rendering="crispEdges"/>
<rect x="344.0" y="83.2" width="1.55" height="16.700000000000003" fill="#333" shape-rendering="crispEdges"/>
<rect x="347.0" y="83.2" width="1.55" height="16.700000000000003" fill="#333" shape-rendering="crispEdges"/>
<rect x="348.5" y="83.2" width="2.55" height="16.700000000000003" fill="#eee" shape-rendering="crispEdges"/>
<rect x="351.0" y="83.2" width="0.55" height="16.700000000000003" fill="#999" shape-rendering="crispEdges"/>
<defs><linearGradient id="cb1" x1="0" y1="0" x2="1" y2="0"><stop offset="0" stop-color="#cf3a3e"/><stop offset="0.282" stop-color="#d6505a"/><stop offset="0.306" stop-color="#eeb0c0"/><stop offset="0.413" stop-color="#f0c4d4"/><stop offset="0.437" stop-color="#d8d4ee"/><stop offset="0.683" stop-color="#c6c6e6"/><stop offset="0.707" stop-color="#6666b4"/><stop offset="1" stop-color="#3e3e96"/></linearGradient></defs>
<rect x="241.1" y="99.9" width="110.29999999999998" height="4.099999999999994" fill="url(#cb1)"/>
<text x="241.6" y="106.6" font-size="2.6" fill="#c84848" textLength="33" lengthAdjust="spacingAndGlyphs">'UPP' (positively correlated)</text>
<line x1="356" y1="104.0" x2="356" y2="137.5" stroke="#dcdcdc" stroke-width="0.6"/>
<polygon points="241,121.6 241,119.6 243,120.6 250,121.1 290,121.6 340,121.8 347,122.6 349.5,124 350.6,127 351.2,121.6" fill="#c8c8c8" stroke="#b0b0b0" stroke-width="0.4"/>
<line x1="240.6" y1="121.6" x2="351.4" y2="121.6" stroke="#aaa" stroke-width="0.6"/>
<line x1="289" y1="104.5" x2="289" y2="137.5" stroke="#e4e4e4" stroke-width="0.5"/>
<text x="278.5" y="122.6" font-size="3" fill="#444" textLength="23" lengthAdjust="spacingAndGlyphs">Zero cross at 4956</text>
<text x="299.3" y="137.0" font-size="2.6" fill="#6a6ab8" textLength="36" lengthAdjust="spacingAndGlyphs">'MM' (negatively correlated)</text>
<line x1="237.4" y1="109.3" x2="240.2" y2="109.3" stroke="#222" stroke-width="1.15"/>
<text x="236.0" y="111.1" font-size="5.2" text-anchor="end" fill="#1a1a1a" stroke="#1a1a1a" stroke-width="0.22">5.0</text>
<line x1="237.4" y1="115.4" x2="240.2" y2="115.4" stroke="#222" stroke-width="1.15"/>
<text x="236.0" y="117.2" font-size="5.2" text-anchor="end" fill="#1a1a1a" stroke="#1a1a1a" stroke-width="0.22">2.5</text>
<line x1="237.4" y1="121.5" x2="240.2" y2="121.5" stroke="#222" stroke-width="1.15"/>
<text x="236.0" y="123.3" font-size="5.2" text-anchor="end" fill="#1a1a1a" stroke="#1a1a1a" stroke-width="0.22">0.0</text>
<line x1="237.4" y1="127.5" x2="240.2" y2="127.5" stroke="#222" stroke-width="1.15"/>
<text x="236.0" y="129.3" font-size="5.2" text-anchor="end" fill="#1a1a1a" stroke="#1a1a1a" stroke-width="0.22">-2.5</text>
<line x1="237.4" y1="133.6" x2="240.2" y2="133.6" stroke="#222" stroke-width="1.15"/>
<text x="236.0" y="135.4" font-size="5.2" text-anchor="end" fill="#1a1a1a" stroke="#1a1a1a" stroke-width="0.22">-5.0</text>
<text x="242.5" y="115.0" font-size="6.4" text-anchor="start" font-weight="bold" fill="#b43c3c" textLength="9.0" lengthAdjust="spacingAndGlyphs">KD</text>
<text x="341" y="114.6" font-size="6.4" text-anchor="start" font-weight="bold" fill="#26266a" textLength="10.2" lengthAdjust="spacingAndGlyphs">MM</text>
<line x1="240.9" y1="138.6" x2="240.9" y2="141.4" stroke="#333" stroke-width="0.8"/>
<text x="240.9" y="147.6" font-size="5.4" text-anchor="middle" fill="#1a1a1a" textLength="3.0" lengthAdjust="spacingAndGlyphs" stroke="#1a1a1a" stroke-width="0.22">0</text>
<line x1="267.3" y1="138.6" x2="267.3" y2="141.4" stroke="#333" stroke-width="0.8"/>
<text x="267.3" y="147.6" font-size="5.4" text-anchor="middle" fill="#1a1a1a" textLength="12.0" lengthAdjust="spacingAndGlyphs" stroke="#1a1a1a" stroke-width="0.22">2500</text>
<line x1="293.7" y1="138.6" x2="293.7" y2="141.4" stroke="#333" stroke-width="0.8"/>
<text x="293.7" y="147.6" font-size="5.4" text-anchor="middle" fill="#1a1a1a" textLength="12.0" lengthAdjust="spacingAndGlyphs" stroke="#1a1a1a" stroke-width="0.22">5000</text>
<line x1="320.1" y1="138.6" x2="320.1" y2="141.4" stroke="#333" stroke-width="0.8"/>
<text x="320.1" y="147.6" font-size="5.4" text-anchor="middle" fill="#1a1a1a" textLength="12.0" lengthAdjust="spacingAndGlyphs" stroke="#1a1a1a" stroke-width="0.22">7500</text>
<line x1="346.5" y1="138.6" x2="346.5" y2="141.4" stroke="#333" stroke-width="0.8"/>
<text x="346.5" y="147.6" font-size="5.4" text-anchor="middle" fill="#1a1a1a" textLength="15.0" lengthAdjust="spacingAndGlyphs" stroke="#1a1a1a" stroke-width="0.22">10000</text>
<text x="298.4" y="156.4" font-size="7.4" text-anchor="middle" fill="#1a1a1a" textLength="55.5" lengthAdjust="spacingAndGlyphs" stroke="#1a1a1a" stroke-width="0.1">Rank in ordered dataset</text>
<text x="319.6" y="38.4" font-size="5.6" text-anchor="start" fill="#222" textLength="28.3" lengthAdjust="spacingAndGlyphs" stroke="#222" stroke-width="0.16">NES = 2.36</text>
<text x="319.6" y="44.6" font-size="5.6" text-anchor="start" fill="#222" textLength="30.3" lengthAdjust="spacingAndGlyphs" stroke="#222" stroke-width="0.16">p,q &lt; 0.0001</text>
<text x="0" y="0" font-size="6.8" text-anchor="middle" fill="#1a1a1a" textLength="52" lengthAdjust="spacingAndGlyphs" stroke="#1a1a1a" stroke-width="0.22" transform="translate(224.8,55.5) rotate(-90)">Enrichment score (ES)</text>
<text x="0" y="0" font-size="6.8" text-anchor="middle" fill="#1a1a1a" textLength="42" lengthAdjust="spacingAndGlyphs" stroke="#1a1a1a" stroke-width="0.22" transform="translate(214.6,119.8) rotate(-90)">Ranked list metric</text>
<text x="0" y="0" font-size="6.8" text-anchor="middle" fill="#1a1a1a" textLength="51" lengthAdjust="spacingAndGlyphs" stroke="#1a1a1a" stroke-width="0.22" transform="translate(222.9,119.8) rotate(-90)">(Log2 of ratio classes)</text>
<text x="453.7" y="28.4" font-size="8.2" text-anchor="middle" fill="#333" textLength="102.0" lengthAdjust="spacingAndGlyphs">Down regulated by C/EBPα-ER</text>
<rect x="398.2" y="32.6" width="113.60000000000002" height="50.6" fill="none" stroke="#dcdcdc" stroke-width="0.6"/>
<line x1="398.2" y1="39.2" x2="511.8" y2="39.2" stroke="#c8c8c8" stroke-width="0.6"/>
<line x1="395.0" y1="39.2" x2="397.8" y2="39.2" stroke="#222" stroke-width="1.15"/>
<text x="393.59999999999997" y="41.0" font-size="5.2" text-anchor="end" fill="#1a1a1a" stroke="#1a1a1a" stroke-width="0.22">0.0</text>
<line x1="395.0" y1="47.3" x2="397.8" y2="47.3" stroke="#222" stroke-width="1.15"/>
<text x="393.59999999999997" y="49.099999999999994" font-size="5.2" text-anchor="end" fill="#1a1a1a" stroke="#1a1a1a" stroke-width="0.22">-0.1</text>
<line x1="395.0" y1="55.4" x2="397.8" y2="55.4" stroke="#222" stroke-width="1.15"/>
<text x="393.59999999999997" y="57.199999999999996" font-size="5.2" text-anchor="end" fill="#1a1a1a" stroke="#1a1a1a" stroke-width="0.22">-0.2</text>
<line x1="395.0" y1="63.5" x2="397.8" y2="63.5" stroke="#222" stroke-width="1.15"/>
<text x="393.59999999999997" y="65.3" font-size="5.2" text-anchor="end" fill="#1a1a1a" stroke="#1a1a1a" stroke-width="0.22">-0.3</text>
<line x1="395.0" y1="71.6" x2="397.8" y2="71.6" stroke="#222" stroke-width="1.15"/>
<text x="393.59999999999997" y="73.39999999999999" font-size="5.2" text-anchor="end" fill="#1a1a1a" stroke="#1a1a1a" stroke-width="0.22">-0.4</text>
<line x1="395.0" y1="79.7" x2="397.8" y2="79.7" stroke="#222" stroke-width="1.15"/>
<text x="393.59999999999997" y="81.5" font-size="5.2" text-anchor="end" fill="#1a1a1a" stroke="#1a1a1a" stroke-width="0.22">-0.5</text>
<polyline points="398.2,39.3 399.4,37.7 400.7,37.7 402,36.1 404.1,34.7 406.8,35 409.5,35.8 413.5,37.4 417.5,39.2 422.9,42.1 429.6,46.8 436.4,51.6 443.1,56.3 449.8,61 456.6,65.7 463.3,69.6 470,73 476,75.8 481.2,78 488.5,80.2 495,80.8 499.6,80.4 502.7,76.5 505,68.8 506,58 507,42.7 507.3,39.3" fill="none" stroke="#5e9646" stroke-width="1.2" stroke-linejoin="round"/>
<rect x="398.0" y="84.0" width="1.05" height="15.799999999999997" fill="#333" shape-rendering="crispEdges"/>
<rect x="399.0" y="84.0" width="2.05" height="15.799999999999997" fill="#eee" shape-rendering="crispEdges"/>
<rect x="401.0" y="84.0" width="2.05" height="15.799999999999997" fill="#111" shape-rendering="crispEdges"/>
<rect x="403.0" y="84.0" width="2.05" height="15.799999999999997" fill="#444" shape-rendering="crispEdges"/>
<rect x="405.0" y="84.0" width="1.05" height="15.799999999999997" fill="#ccc" shape-rendering="crispEdges"/>
<rect x="406.0" y="84.0" width="1.05" height="15.799999999999997" fill="#666" shape-rendering="crispEdges"/>
<rect x="407.0" y="84.0" width="1.05" height="15.799999999999997" fill="#444" shape-rendering="crispEdges"/>
<rect x="409.5" y="84.0" width="1.55" height="15.799999999999997" fill="#222" shape-rendering="crispEdges"/>
<rect x="411.0" y="84.0" width="2.05" height="15.799999999999997" fill="#888" shape-rendering="crispEdges"/>
<rect x="413.0" y="84.0" width="1.05" height="15.799999999999997" fill="#333" shape-rendering="crispEdges"/>
<rect x="415.5" y="84.0" width="2.55" height="15.799999999999997" fill="#777" shape-rendering="crispEdges"/>
<rect x="418.0" y="84.0" width="1.55" height="15.799999999999997" fill="#999" shape-rendering="crispEdges"/>
<rect x="419.5" y="84.0" width="1.55" height="15.799999999999997" fill="#bbb" shape-rendering="crispEdges"/>
<rect x="422.0" y="84.0" width="2.05" height="15.799999999999997" fill="#666" shape-rendering="crispEdges"/>
<rect x="424.0" y="84.0" width="1.05" height="15.799999999999997" fill="#ddd" shape-rendering="crispEdges"/>
<rect x="425.0" y="84.0" width="2.05" height="15.799999999999997" fill="#666" shape-rendering="crispEdges"/>
<rect x="428.5" y="84.0" width="1.55" height="15.799999999999997" fill="#777" shape-rendering="crispEdges"/>
<rect x="432.0" y="84.0" width="2.05" height="15.799999999999997" fill="#555" shape-rendering="crispEdges"/>
<rect x="435.5" y="84.0" width="2.55" height="15.799999999999997" fill="#666" shape-rendering="crispEdges"/>
<rect x="438.0" y="84.0" width="2.05" height="15.799999999999997" fill="#bbb" shape-rendering="crispEdges"/>
<rect x="440.0" y="84.0" width="4.05" height="15.799999999999997" fill="#3a3a3a" shape-rendering="crispEdges"/>
<rect x="444.0" y="84.0" width="2.05" height="15.799999999999997" fill="#ccc" shape-rendering="crispEdges"/>
<rect x="446.0" y="84.0" width="1.05" height="15.799999999999997" fill="#888" shape-rendering="crispEdges"/>
<rect x="448.0" y="84.0" width="1.55" height="15.799999999999997" fill="#333" shape-rendering="crispEdges"/>
<rect x="450.0" y="84.0" width="1.05" height="15.799999999999997" fill="#555" shape-rendering="crispEdges"/>
<rect x="453.0" y="84.0" width="1.55" height="15.799999999999997" fill="#111" shape-rendering="crispEdges"/>
<rect x="457.0" y="84.0" width="1.55" height="15.799999999999997" fill="#222" shape-rendering="crispEdges"/>
<rect x="460.5" y="84.0" width="3.55" height="15.799999999999997" fill="#a0a0a0" shape-rendering="crispEdges"/>
<rect x="465.5" y="84.0" width="2.55" height="15.799999999999997" fill="#555" shape-rendering="crispEdges"/>
<rect x="468.0" y="84.0" width="2.05" height="15.799999999999997" fill="#222" shape-rendering="crispEdges"/>
<rect x="471.0" y="84.0" width="3.55" height="15.799999999999997" fill="#999" shape-rendering="crispEdges"/>
<rect x="475.5" y="84.0" width="1.55" height="15.799999999999997" fill="#ccc" shape-rendering="crispEdges"/>
<rect x="477.0" y="84.0" width="2.05" height="15.799999999999997" fill="#aaa" shape-rendering="crispEdges"/>
<rect x="480.0" y="84.0" width="1.05" height="15.799999999999997" fill="#888" shape-rendering="crispEdges"/>
<rect x="481.0" y="84.0" width="1.55" height="15.799999999999997" fill="#222" shape-rendering="crispEdges"/>
<rect x="482.5" y="84.0" width="2.05" height="15.799999999999997" fill="#777" shape-rendering="crispEdges"/>
<rect x="484.5" y="84.0" width="1.05" height="15.799999999999997" fill="#bbb" shape-rendering="crispEdges"/>
<rect x="485.5" y="84.0" width="2.55" height="15.799999999999997" fill="#888" shape-rendering="crispEdges"/>
<rect x="488.0" y="84.0" width="1.05" height="15.799999999999997" fill="#ddd" shape-rendering="crispEdges"/>
<rect x="489.0" y="84.0" width="3.05" height="15.799999999999997" fill="#333" shape-rendering="crispEdges"/>
<rect x="492.0" y="84.0" width="1.05" height="15.799999999999997" fill="#888" shape-rendering="crispEdges"/>
<rect x="493.0" y="84.0" width="1.55" height="15.799999999999997" fill="#111" shape-rendering="crispEdges"/>
<rect x="494.5" y="84.0" width="5.55" height="15.799999999999997" fill="#aaa" shape-rendering="crispEdges"/>
<rect x="500.0" y="84.0" width="3.05" height="15.799999999999997" fill="#222" shape-rendering="crispEdges"/>
<rect x="503.0" y="84.0" width="1.05" height="15.799999999999997" fill="#666" shape-rendering="crispEdges"/>
<rect x="504.0" y="84.0" width="3.05" height="15.799999999999997" fill="#222" shape-rendering="crispEdges"/>
<defs><linearGradient id="cb2" x1="0" y1="0" x2="1" y2="0"><stop offset="0" stop-color="#cf3a3e"/><stop offset="0.288" stop-color="#d6505a"/><stop offset="0.312" stop-color="#eeb0c0"/><stop offset="0.443" stop-color="#f0c4d4"/><stop offset="0.467" stop-color="#d8d4ee"/><stop offset="0.688" stop-color="#c6c6e6"/><stop offset="0.712" stop-color="#6666b4"/><stop offset="1" stop-color="#3e3e96"/></linearGradient></defs>
<rect x="398.7" y="99.8" width="108.10000000000002" height="4.400000000000006" fill="url(#cb2)"/>
<text x="399.2" y="106.8" font-size="2.6" fill="#c84848" textLength="33" lengthAdjust="spacingAndGlyphs">'UPP' (positively correlated)</text>
<line x1="511.8" y1="104.2" x2="511.8" y2="137.5" stroke="#dcdcdc" stroke-width="0.6"/>
<polygon points="398.6,121.6 398.6,120.2 402,121 450,121.6 500,122 504,123.2 505.8,125.5 506.4,129 506.8,121.6" fill="#c8c8c8" stroke="#b0b0b0" stroke-width="0.4"/>
<line x1="398.2" y1="121.6" x2="506.8" y2="121.6" stroke="#aaa" stroke-width="0.6"/>
<line x1="449.6" y1="104.7" x2="449.6" y2="137.5" stroke="#e4e4e4" stroke-width="0.5"/>
<text x="439.1" y="122.6" font-size="3" fill="#444" textLength="23" lengthAdjust="spacingAndGlyphs">Zero cross at 4956</text>
<text x="455" y="137.0" font-size="2.6" fill="#6a6ab8" textLength="36" lengthAdjust="spacingAndGlyphs">'MM' (negatively correlated)</text>
<line x1="395.0" y1="109.6" x2="397.8" y2="109.6" stroke="#222" stroke-width="1.15"/>
<text x="393.59999999999997" y="111.39999999999999" font-size="5.2" text-anchor="end" fill="#1a1a1a" stroke="#1a1a1a" stroke-width="0.22">5.0</text>
<line x1="395.0" y1="115.6" x2="397.8" y2="115.6" stroke="#222" stroke-width="1.15"/>
<text x="393.59999999999997" y="117.39999999999999" font-size="5.2" text-anchor="end" fill="#1a1a1a" stroke="#1a1a1a" stroke-width="0.22">2.5</text>
<line x1="395.0" y1="121.5" x2="397.8" y2="121.5" stroke="#222" stroke-width="1.15"/>
<text x="393.59999999999997" y="123.3" font-size="5.2" text-anchor="end" fill="#1a1a1a" stroke="#1a1a1a" stroke-width="0.22">0.0</text>
<line x1="395.0" y1="127.2" x2="397.8" y2="127.2" stroke="#222" stroke-width="1.15"/>
<text x="393.59999999999997" y="129.0" font-size="5.2" text-anchor="end" fill="#1a1a1a" stroke="#1a1a1a" stroke-width="0.22">-2.5</text>
<line x1="395.0" y1="133.2" x2="397.8" y2="133.2" stroke="#222" stroke-width="1.15"/>
<text x="393.59999999999997" y="135.0" font-size="5.2" text-anchor="end" fill="#1a1a1a" stroke="#1a1a1a" stroke-width="0.22">-5.0</text>
<text x="401.9" y="115.0" font-size="6.4" text-anchor="start" font-weight="bold" fill="#b43c3c" textLength="9.0" lengthAdjust="spacingAndGlyphs">KD</text>
<text x="498.3" y="114.7" font-size="6.4" text-anchor="start" font-weight="bold" fill="#26266a" textLength="10.2" lengthAdjust="spacingAndGlyphs">MM</text>
<line x1="398.4" y1="138.2" x2="398.4" y2="141.2" stroke="#333" stroke-width="0.8"/>
<text x="398.4" y="147.6" font-size="5.4" text-anchor="middle" fill="#1a1a1a" textLength="3.0" lengthAdjust="spacingAndGlyphs" stroke="#1a1a1a" stroke-width="0.22">0</text>
<line x1="424.3" y1="138.2" x2="424.3" y2="141.2" stroke="#333" stroke-width="0.8"/>
<text x="424.3" y="147.6" font-size="5.4" text-anchor="middle" fill="#1a1a1a" textLength="12.0" lengthAdjust="spacingAndGlyphs" stroke="#1a1a1a" stroke-width="0.22">2500</text>
<line x1="450.1" y1="138.2" x2="450.1" y2="141.2" stroke="#333" stroke-width="0.8"/>
<text x="450.1" y="147.6" font-size="5.4" text-anchor="middle" fill="#1a1a1a" textLength="12.0" lengthAdjust="spacingAndGlyphs" stroke="#1a1a1a" stroke-width="0.22">5000</text>
<line x1="476.0" y1="138.2" x2="476.0" y2="141.2" stroke="#333" stroke-width="0.8"/>
<text x="476.0" y="147.6" font-size="5.4" text-anchor="middle" fill="#1a1a1a" textLength="12.0" lengthAdjust="spacingAndGlyphs" stroke="#1a1a1a" stroke-width="0.22">7500</text>
<line x1="501.9" y1="138.2" x2="501.9" y2="141.2" stroke="#333" stroke-width="0.8"/>
<text x="501.9" y="147.6" font-size="5.4" text-anchor="middle" fill="#1a1a1a" textLength="15.0" lengthAdjust="spacingAndGlyphs" stroke="#1a1a1a" stroke-width="0.22">10000</text>
<text x="454.9" y="156.4" font-size="7.4" text-anchor="middle" fill="#1a1a1a" textLength="55.5" lengthAdjust="spacingAndGlyphs" stroke="#1a1a1a" stroke-width="0.1">Rank in ordered dataset</text>
<text x="471.2" y="38.3" font-size="5.6" text-anchor="start" fill="#222" textLength="32.3" lengthAdjust="spacingAndGlyphs" stroke="#222" stroke-width="0.16">NES = -2.567</text>
<text x="471.2" y="44.8" font-size="5.6" text-anchor="start" fill="#222" textLength="29" lengthAdjust="spacingAndGlyphs" stroke="#222" stroke-width="0.16">p,q &lt; 0.0001</text>
<text x="0" y="0" font-size="6.8" text-anchor="middle" fill="#1a1a1a" textLength="54" lengthAdjust="spacingAndGlyphs" stroke="#1a1a1a" stroke-width="0.22" transform="translate(380.5,60.5) rotate(-90)">Enrichment score (ES)</text>
<text x="0" y="0" font-size="6.8" text-anchor="middle" fill="#1a1a1a" textLength="42" lengthAdjust="spacingAndGlyphs" stroke="#1a1a1a" stroke-width="0.22" transform="translate(371.5,119.5) rotate(-90)">Ranked list metric</text>
<text x="0" y="0" font-size="6.8" text-anchor="middle" fill="#1a1a1a" textLength="51" lengthAdjust="spacingAndGlyphs" stroke="#1a1a1a" stroke-width="0.22" transform="translate(381.2,119.5) rotate(-90)">(Log2 of ratio classes)</text>
<text x="298.1" y="176.5" font-size="8.2" text-anchor="middle" fill="#333" textLength="94.4" lengthAdjust="spacingAndGlyphs">Up regulated by C/EBPα-ER</text>
<rect x="242.1" y="180.3" width="113.9" height="51.2" fill="none" stroke="#dcdcdc" stroke-width="0.6"/>
<line x1="242.1" y1="219.2" x2="356" y2="219.2" stroke="#c8c8c8" stroke-width="0.6"/>
<line x1="238.9" y1="182.45" x2="241.7" y2="182.45" stroke="#222" stroke-width="1.15"/>
<text x="237.5" y="184.25" font-size="5.2" text-anchor="end" fill="#1a1a1a" stroke="#1a1a1a" stroke-width="0.22">0.5</text>
<line x1="238.9" y1="189.8" x2="241.7" y2="189.8" stroke="#222" stroke-width="1.15"/>
<text x="237.5" y="191.60000000000002" font-size="5.2" text-anchor="end" fill="#1a1a1a" stroke="#1a1a1a" stroke-width="0.22">0.4</text>
<line x1="238.9" y1="197.15" x2="241.7" y2="197.15" stroke="#222" stroke-width="1.15"/>
<text x="237.5" y="198.95000000000002" font-size="5.2" text-anchor="end" fill="#1a1a1a" stroke="#1a1a1a" stroke-width="0.22">0.3</text>
<line x1="238.9" y1="204.5" x2="241.7" y2="204.5" stroke="#222" stroke-width="1.15"/>
<text x="237.5" y="206.3" font-size="5.2" text-anchor="end" fill="#1a1a1a" stroke="#1a1a1a" stroke-width="0.22">0.2</text>
<line x1="238.9" y1="211.85" x2="241.7" y2="211.85" stroke="#222" stroke-width="1.15"/>
<text x="237.5" y="213.65" font-size="5.2" text-anchor="end" fill="#1a1a1a" stroke="#1a1a1a" stroke-width="0.22">0.1</text>
<line x1="238.9" y1="219.2" x2="241.7" y2="219.2" stroke="#222" stroke-width="1.15"/>
<text x="237.5" y="221.0" font-size="5.2" text-anchor="end" fill="#1a1a1a" stroke="#1a1a1a" stroke-width="0.22">0.0</text>
<line x1="238.9" y1="226.55" x2="241.7" y2="226.55" stroke="#222" stroke-width="1.15"/>
<text x="237.5" y="228.35000000000002" font-size="5.2" text-anchor="end" fill="#1a1a1a" stroke="#1a1a1a" stroke-width="0.22">-0.1</text>
<polyline points="242.4,208.5 242.8,200 243.3,192 243.9,187 244.8,184.5 246,183.6 249.2,183.2 252.7,182.6 257.3,183.8 263.1,186.1 270,189.5 274.6,191.8 280.4,195.3 286.1,198.8 291.9,202.8 300,208 307.5,212.5 313.75,216.9 320,220.6 326.25,223.75 332.5,226.9 337,228.6 340,229.2 343,229.1 345.5,228.5 347.5,227 349.5,223.5 351.6,218.8" fill="none" stroke="#5e9646" stroke-width="1.2" stroke-linejoin="round"/>
<rect x="242.0" y="232.3" width="4.85" height="16.0" fill="#111" shape-rendering="crispEdges"/>
<rect x="246.8" y="232.3" width="1.25" height="16.0" fill="#999" shape-rendering="crispEdges"/>
<rect x="248.0" y="232.3" width="1.55" height="16.0" fill="#555" shape-rendering="crispEdges"/>
<rect x="249.5" y="232.3" width="1.05" height="16.0" fill="#888" shape-rendering="crispEdges"/>
<rect x="250.5" y="232.3" width="1.55" height="16.0" fill="#444" shape-rendering="crispEdges"/>
<rect x="252.0" y="232.3" width="1.05" height="16.0" fill="#222" shape-rendering="crispEdges"/>
<rect x="253.0" y="232.3" width="2.55" height="16.0" fill="#444" shape-rendering="crispEdges"/>
<rect x="255.5" y="232.3" width="1.05" height="16.0" fill="#999" shape-rendering="crispEdges"/>
<rect x="256.5" y="232.3" width="1.55" height="16.0" fill="#333" shape-rendering="crispEdges"/>
<rect x="258.0" y="232.3" width="1.55" height="16.0" fill="#666" shape-rendering="crispEdges"/>
<rect x="259.5" y="232.3" width="1.55" height="16.0" fill="#555" shape-rendering="crispEdges"/>
<rect x="261.0" y="232.3" width="1.55" height="16.0" fill="#ddd" shape-rendering="crispEdges"/>
<rect x="262.5" y="232.3" width="1.05" height="16.0" fill="#bbb" shape-rendering="crispEdges"/>
<rect x="263.5" y="232.3" width="1.55" height="16.0" fill="#ccc" shape-rendering="crispEdges"/>
<rect x="265.0" y="232.3" width="1.05" height="16.0" fill="#777" shape-rendering="crispEdges"/>
<rect x="266.0" y="232.3" width="1.05" height="16.0" fill="#999" shape-rendering="crispEdges"/>
<rect x="267.0" y="232.3" width="1.05" height="16.0" fill="#ddd" shape-rendering="crispEdges"/>
<rect x="268.0" y="232.3" width="1.55" height="16.0" fill="#222" shape-rendering="crispEdges"/>
<rect x="269.5" y="232.3" width="1.55" height="16.0" fill="#999" shape-rendering="crispEdges"/>
<rect x="271.0" y="232.3" width="1.05" height="16.0" fill="#bbb" shape-rendering="crispEdges"/>
<rect x="272.0" y="232.3" width="2.05" height="16.0" fill="#444" shape-rendering="crispEdges"/>
<rect x="275.0" y="232.3" width="1.55" height="16.0" fill="#111" shape-rendering="crispEdges"/>
<rect x="276.5" y="232.3" width="1.55" height="16.0" fill="#ddd" shape-rendering="crispEdges"/>
<rect x="278.0" y="232.3" width="2.05" height="16.0" fill="#333" shape-rendering="crispEdges"/>
<rect x="280.0" y="232.3" width="1.05" height="16.0" fill="#ddd" shape-rendering="crispEdges"/>
<rect x="281.0" y="232.3" width="2.05" height="16.0" fill="#888" shape-rendering="crispEdges"/>
<rect x="283.0" y="232.3" width="2.05" height="16.0" fill="#ddd" shape-rendering="crispEdges"/>
<rect x="285.0" y="232.3" width="2.05" height="16.0" fill="#777" shape-rendering="crispEdges"/>
<rect x="287.0" y="232.3" width="1.05" height="16.0" fill="#999" shape-rendering="crispEdges"/>
<rect x="288.0" y="232.3" width="2.05" height="16.0" fill="#333" shape-rendering="crispEdges"/>
<rect x="290.0" y="232.3" width="2.05" height="16.0" fill="#111" shape-rendering="crispEdges"/>
<rect x="292.0" y="232.3" width="1.55" height="16.0" fill="#ccc" shape-rendering="crispEdges"/>
<rect x="293.5" y="232.3" width="1.55" height="16.0" fill="#111" shape-rendering="crispEdges"/>
<rect x="295.0" y="232.3" width="1.05" height="16.0" fill="#666" shape-rendering="crispEdges"/>
<rect x="296.0" y="232.3" width="2.05" height="16.0" fill="#222" shape-rendering="crispEdges"/>
<rect x="298.0" y="232.3" width="1.05" height="16.0" fill="#888" shape-rendering="crispEdges"/>
<rect x="299.0" y="232.3" width="1.55" height="16.0" fill="#aaa" shape-rendering="crispEdges"/>
<rect x="300.5" y="232.3" width="0.55" height="16.0" fill="#888" shape-rendering="crispEdges"/>
<rect x="301.0" y="232.3" width="1.05" height="16.0" fill="#222" shape-rendering="crispEdges"/>
<rect x="302.0" y="232.3" width="2.55" height="16.0" fill="#888" shape-rendering="crispEdges"/>
<rect x="306.5" y="232.3" width="2.55" height="16.0" fill="#111" shape-rendering="crispEdges"/>
<rect x="309.0" y="232.3" width="1.55" height="16.0" fill="#777" shape-rendering="crispEdges"/>
<rect x="310.5" y="232.3" width="1.05" height="16.0" fill="#bbb" shape-rendering="crispEdges"/>
<rect x="311.5" y="232.3" width="2.55" height="16.0" fill="#555" shape-rendering="crispEdges"/>
<rect x="314.0" y="232.3" width="2.05" height="16.0" fill="#ccc" shape-rendering="crispEdges"/>
<rect x="316.0" y="232.3" width="3.05" height="16.0" fill="#333" shape-rendering="crispEdges"/>
<rect x="319.0" y="232.3" width="2.05" height="16.0" fill="#999" shape-rendering="crispEdges"/>
<rect x="321.0" y="232.3" width="4.05" height="16.0" fill="#666" shape-rendering="crispEdges"/>
<rect x="325.0" y="232.3" width="1.05" height="16.0" fill="#222" shape-rendering="crispEdges"/>
<rect x="326.0" y="232.3" width="2.05" height="16.0" fill="#aaa" shape-rendering="crispEdges"/>
<rect x="328.0" y="232.3" width="1.55" height="16.0" fill="#111" shape-rendering="crispEdges"/>
<rect x="329.5" y="232.3" width="1.05" height="16.0" fill="#666" shape-rendering="crispEdges"/>
<rect x="330.5" y="232.3" width="1.55" height="16.0" fill="#ccc" shape-rendering="crispEdges"/>
<rect x="332.0" y="232.3" width="1.55" height="16.0" fill="#888" shape-rendering="crispEdges"/>
<rect x="333.5" y="232.3" width="1.05" height="16.0" fill="#333" shape-rendering="crispEdges"/>
<rect x="334.5" y="232.3" width="2.05" height="16.0" fill="#bbb" shape-rendering="crispEdges"/>
<rect x="336.5" y="232.3" width="1.05" height="16.0" fill="#222" shape-rendering="crispEdges"/>
<rect x="337.5" y="232.3" width="1.55" height="16.0" fill="#777" shape-rendering="crispEdges"/>
<rect x="339.0" y="232.3" width="1.55" height="16.0" fill="#222" shape-rendering="crispEdges"/>
<rect x="340.5" y="232.3" width="1.55" height="16.0" fill="#555" shape-rendering="crispEdges"/>
<rect x="342.0" y="232.3" width="1.05" height="16.0" fill="#aaa" shape-rendering="crispEdges"/>
<rect x="343.0" y="232.3" width="2.05" height="16.0" fill="#777" shape-rendering="crispEdges"/>
<rect x="345.0" y="232.3" width="2.05" height="16.0" fill="#111" shape-rendering="crispEdges"/>
<rect x="347.0" y="232.3" width="1.55" height="16.0" fill="#555" shape-rendering="crispEdges"/>
<rect x="348.5" y="232.3" width="2.85" height="16.0" fill="#111" shape-rendering="crispEdges"/>
<defs><linearGradient id="cb3" x1="0" y1="0" x2="1" y2="0"><stop offset="0" stop-color="#cf3a3e"/><stop offset="0.378" stop-color="#d6505a"/><stop offset="0.402" stop-color="#eeb0c0"/><stop offset="0.518" stop-color="#f0c4d4"/><stop offset="0.542" stop-color="#d8d4ee"/><stop offset="0.758" stop-color="#c6c6e6"/><stop offset="0.782" stop-color="#6666b4"/><stop offset="1" stop-color="#3e3e96"/></linearGradient></defs>
<rect x="242.6" y="248.3" width="108.70000000000002" height="4.099999999999994" fill="url(#cb3)"/>
<text x="243.1" y="255.0" font-size="2.6" fill="#c84848" textLength="32" lengthAdjust="spacingAndGlyphs">'SKH1' (positively correlated)</text>
<line x1="356" y1="252.4" x2="356" y2="286.8" stroke="#dcdcdc" stroke-width="0.6"/>
<polygon points="242.5,271.3 242.5,269.8 246,270.7 295,271.3 344,271.6 348,272.8 350.2,275 350.8,278 351.3,271.3" fill="#c8c8c8" stroke="#b0b0b0" stroke-width="0.4"/>
<line x1="242.1" y1="271.3" x2="351.3" y2="271.3" stroke="#aaa" stroke-width="0.6"/>
<line x1="295" y1="252.9" x2="295" y2="286.8" stroke="#e4e4e4" stroke-width="0.5"/>
<text x="284.5" y="272.3" font-size="3" fill="#444" textLength="23" lengthAdjust="spacingAndGlyphs">Zero cross at 4050</text>
<text x="298.9" y="286.3" font-size="2.6" fill="#6a6ab8" textLength="36" lengthAdjust="spacingAndGlyphs">'MM' (negatively correlated)</text>
<line x1="238.9" y1="257.1" x2="241.7" y2="257.1" stroke="#222" stroke-width="1.15"/>
<text x="237.5" y="258.90000000000003" font-size="5.2" text-anchor="end" fill="#1a1a1a" stroke="#1a1a1a" stroke-width="0.22">5.0</text>
<line x1="238.9" y1="264.4" x2="241.7" y2="264.4" stroke="#222" stroke-width="1.15"/>
<text x="237.5" y="266.2" font-size="5.2" text-anchor="end" fill="#1a1a1a" stroke="#1a1a1a" stroke-width="0.22">2.5</text>
<line x1="238.9" y1="271.3" x2="241.7" y2="271.3" stroke="#222" stroke-width="1.15"/>
<text x="237.5" y="273.1" font-size="5.2" text-anchor="end" fill="#1a1a1a" stroke="#1a1a1a" stroke-width="0.22">0.0</text>
<line x1="238.9" y1="278.7" x2="241.7" y2="278.7" stroke="#222" stroke-width="1.15"/>
<text x="237.5" y="280.5" font-size="5.2" text-anchor="end" fill="#1a1a1a" stroke="#1a1a1a" stroke-width="0.22">-2.5</text>
<text x="246.0" y="264.1" font-size="6.4" text-anchor="start" font-weight="bold" fill="#b43c3c" textLength="9.0" lengthAdjust="spacingAndGlyphs">KD</text>
<text x="342.8" y="263.9" font-size="6.4" text-anchor="start" font-weight="bold" fill="#26266a" textLength="10.2" lengthAdjust="spacingAndGlyphs">MM</text>
<line x1="242.2" y1="286.5" x2="242.2" y2="289.6" stroke="#333" stroke-width="0.8"/>
<text x="242.2" y="295.8" font-size="5.4" text-anchor="middle" fill="#1a1a1a" textLength="3.0" lengthAdjust="spacingAndGlyphs" stroke="#1a1a1a" stroke-width="0.22">0</text>
<line x1="268.4" y1="286.5" x2="268.4" y2="289.6" stroke="#333" stroke-width="0.8"/>
<text x="268.4" y="295.8" font-size="5.4" text-anchor="middle" fill="#1a1a1a" textLength="12.0" lengthAdjust="spacingAndGlyphs" stroke="#1a1a1a" stroke-width="0.22">2000</text>
<line x1="294.6" y1="286.5" x2="294.6" y2="289.6" stroke="#333" stroke-width="0.8"/>
<text x="294.6" y="295.8" font-size="5.4" text-anchor="middle" fill="#1a1a1a" textLength="12.0" lengthAdjust="spacingAndGlyphs" stroke="#1a1a1a" stroke-width="0.22">4000</text>
<line x1="320.8" y1="286.5" x2="320.8" y2="289.6" stroke="#333" stroke-width="0.8"/>
<text x="320.8" y="295.8" font-size="5.4" text-anchor="middle" fill="#1a1a1a" textLength="12.0" lengthAdjust="spacingAndGlyphs" stroke="#1a1a1a" stroke-width="0.22">6000</text>
<line x1="347.0" y1="286.5" x2="347.0" y2="289.6" stroke="#333" stroke-width="0.8"/>
<text x="347.0" y="295.8" font-size="5.4" text-anchor="middle" fill="#1a1a1a" textLength="12.0" lengthAdjust="spacingAndGlyphs" stroke="#1a1a1a" stroke-width="0.22">8000</text>
<text x="298.9" y="304.3" font-size="7.4" text-anchor="middle" fill="#1a1a1a" textLength="55.5" lengthAdjust="spacingAndGlyphs" stroke="#1a1a1a" stroke-width="0.1">Rank in ordered dataset</text>
<text x="319.4" y="189.4" font-size="5.6" text-anchor="start" fill="#222" textLength="28.6" lengthAdjust="spacingAndGlyphs" stroke="#222" stroke-width="0.16">NES = 2.36</text>
<text x="319.4" y="196.0" font-size="5.6" text-anchor="start" fill="#222" textLength="30.6" lengthAdjust="spacingAndGlyphs" stroke="#222" stroke-width="0.16">p,q &lt; 0.0001</text>
<text x="0" y="0" font-size="6.8" text-anchor="middle" fill="#1a1a1a" textLength="54" lengthAdjust="spacingAndGlyphs" stroke="#1a1a1a" stroke-width="0.22" transform="translate(224.2,205) rotate(-90)">Enrichment score (ES)</text>
<text x="0" y="0" font-size="6.8" text-anchor="middle" fill="#1a1a1a" textLength="42" lengthAdjust="spacingAndGlyphs" stroke="#1a1a1a" stroke-width="0.22" transform="translate(215.8,269) rotate(-90)">Ranked list metric</text>
<text x="0" y="0" font-size="6.8" text-anchor="middle" fill="#1a1a1a" textLength="51" lengthAdjust="spacingAndGlyphs" stroke="#1a1a1a" stroke-width="0.22" transform="translate(225.0,269) rotate(-90)">(Log2 of ratio classes)</text>
<text x="453.29999999999995" y="176.9" font-size="8.2" text-anchor="middle" fill="#333" textLength="102.8" lengthAdjust="spacingAndGlyphs">Down regulated by C/EBPα-ER</text>
<rect x="397.8" y="180.3" width="114.0" height="50.89999999999999" fill="none" stroke="#dcdcdc" stroke-width="0.6"/>
<line x1="397.8" y1="183.5" x2="511.8" y2="183.5" stroke="#c8c8c8" stroke-width="0.6"/>
<line x1="394.6" y1="183.7" x2="397.40000000000003" y2="183.7" stroke="#222" stroke-width="1.15"/>
<text x="393.2" y="185.5" font-size="5.2" text-anchor="end" fill="#1a1a1a" stroke="#1a1a1a" stroke-width="0.22">0.0</text>
<line x1="394.6" y1="191.06" x2="397.40000000000003" y2="191.06" stroke="#222" stroke-width="1.15"/>
<text x="393.2" y="192.86" font-size="5.2" text-anchor="end" fill="#1a1a1a" stroke="#1a1a1a" stroke-width="0.22">-0.1</text>
<line x1="394.6" y1="198.42" x2="397.40000000000003" y2="198.42" stroke="#222" stroke-width="1.15"/>
<text x="393.2" y="200.22" font-size="5.2" text-anchor="end" fill="#1a1a1a" stroke="#1a1a1a" stroke-width="0.22">-0.2</text>
<line x1="394.6" y1="205.78" x2="397.40000000000003" y2="205.78" stroke="#222" stroke-width="1.15"/>
<text x="393.2" y="207.58" font-size="5.2" text-anchor="end" fill="#1a1a1a" stroke="#1a1a1a" stroke-width="0.22">-0.3</text>
<line x1="394.6" y1="213.14" x2="397.40000000000003" y2="213.14" stroke="#222" stroke-width="1.15"/>
<text x="393.2" y="214.94" font-size="5.2" text-anchor="end" fill="#1a1a1a" stroke="#1a1a1a" stroke-width="0.22">-0.4</text>
<line x1="394.6" y1="220.5" x2="397.40000000000003" y2="220.5" stroke="#222" stroke-width="1.15"/>
<text x="393.2" y="222.3" font-size="5.2" text-anchor="end" fill="#1a1a1a" stroke="#1a1a1a" stroke-width="0.22">-0.5</text>
<line x1="394.6" y1="227.86" x2="397.40000000000003" y2="227.86" stroke="#222" stroke-width="1.15"/>
<text x="393.2" y="229.66000000000003" font-size="5.2" text-anchor="end" fill="#1a1a1a" stroke="#1a1a1a" stroke-width="0.22">-0.6</text>
<polyline points="397.8,181.9 401.9,182.6 408.8,184.7 418.1,187.7 429.6,193.5 441.2,199.9 452.7,207.3 464.2,214.7 475.8,220.7 487.3,225.3 490.7,228.1 497.2,228.3 499.9,225.6 502.7,220.1 504.9,214.6 505.9,205.5 506.8,191.7 507.4,182" fill="none" stroke="#5e9646" stroke-width="1.2" stroke-linejoin="round"/>
<rect x="398.0" y="232.0" width="1.05" height="16.0" fill="#111" shape-rendering="crispEdges"/>
<rect x="399.0" y="232.0" width="1.55" height="16.0" fill="#999" shape-rendering="crispEdges"/>
<rect x="400.5" y="232.0" width="1.55" height="16.0" fill="#888" shape-rendering="crispEdges"/>
<rect x="402.0" y="232.0" width="1.55" height="16.0" fill="#999" shape-rendering="crispEdges"/>
<rect x="403.5" y="232.0" width="1.05" height="16.0" fill="#ddd" shape-rendering="crispEdges"/>
<rect x="404.5" y="232.0" width="1.55" height="16.0" fill="#555" shape-rendering="crispEdges"/>
<rect x="406.0" y="232.0" width="1.05" height="16.0" fill="#ddd" shape-rendering="crispEdges"/>
<rect x="407.0" y="232.0" width="1.05" height="16.0" fill="#777" shape-rendering="crispEdges"/>
<rect x="408.0" y="232.0" width="1.55" height="16.0" fill="#ccc" shape-rendering="crispEdges"/>
<rect x="409.5" y="232.0" width="1.55" height="16.0" fill="#444" shape-rendering="crispEdges"/>
<rect x="412.5" y="232.0" width="1.55" height="16.0" fill="#999" shape-rendering="crispEdges"/>
<rect x="414.0" y="232.0" width="1.05" height="16.0" fill="#555" shape-rendering="crispEdges"/>
<rect x="415.0" y="232.0" width="2.05" height="16.0" fill="#aaa" shape-rendering="crispEdges"/>
<rect x="417.0" y="232.0" width="1.05" height="16.0" fill="#eee" shape-rendering="crispEdges"/>
<rect x="418.0" y="232.0" width="2.05" height="16.0" fill="#222" shape-rendering="crispEdges"/>
<rect x="420.0" y="232.0" width="2.05" height="16.0" fill="#777" shape-rendering="crispEdges"/>
<rect x="422.0" y="232.0" width="2.05" height="16.0" fill="#999" shape-rendering="crispEdges"/>
<rect x="425.0" y="232.0" width="4.05" height="16.0" fill="#999" shape-rendering="crispEdges"/>
<rect x="429.0" y="232.0" width="1.05" height="16.0" fill="#555" shape-rendering="crispEdges"/>
<rect x="430.0" y="232.0" width="1.55" height="16.0" fill="#bbb" shape-rendering="crispEdges"/>
<rect x="431.5" y="232.0" width="2.55" height="16.0" fill="#888" shape-rendering="crispEdges"/>
<rect x="434.0" y="232.0" width="1.05" height="16.0" fill="#444" shape-rendering="crispEdges"/>
<rect x="436.5" y="232.0" width="3.05" height="16.0" fill="#888" shape-rendering="crispEdges"/>
<rect x="439.5" y="232.0" width="1.55" height="16.0" fill="#777" shape-rendering="crispEdges"/>
<rect x="441.0" y="232.0" width="2.05" height="16.0" fill="#bbb" shape-rendering="crispEdges"/>
<rect x="443.0" y="232.0" width="1.05" height="16.0" fill="#444" shape-rendering="crispEdges"/>
<rect x="444.0" y="232.0" width="2.05" height="16.0" fill="#ccc" shape-rendering="crispEdges"/>
<rect x="446.0" y="232.0" width="2.05" height="16.0" fill="#888" shape-rendering="crispEdges"/>
<rect x="448.0" y="232.0" width="2.05" height="16.0" fill="#999" shape-rendering="crispEdges"/>
<rect x="450.0" y="232.0" width="2.55" height="16.0" fill="#111" shape-rendering="crispEdges"/>
<rect x="454.0" y="232.0" width="4.05" height="16.0" fill="#888" shape-rendering="crispEdges"/>
<rect x="458.0" y="232.0" width="1.05" height="16.0" fill="#bbb" shape-rendering="crispEdges"/>
<rect x="459.0" y="232.0" width="2.05" height="16.0" fill="#777" shape-rendering="crispEdges"/>
<rect x="461.0" y="232.0" width="1.05" height="16.0" fill="#bbb" shape-rendering="crispEdges"/>
<rect x="462.0" y="232.0" width="2.55" height="16.0" fill="#777" shape-rendering="crispEdges"/>
<rect x="464.5" y="232.0" width="1.55" height="16.0" fill="#555" shape-rendering="crispEdges"/>
<rect x="467.5" y="232.0" width="2.55" height="16.0" fill="#777" shape-rendering="crispEdges"/>
<rect x="470.0" y="232.0" width="1.05" height="16.0" fill="#444" shape-rendering="crispEdges"/>
<rect x="471.0" y="232.0" width="1.05" height="16.0" fill="#111" shape-rendering="crispEdges"/>
<rect x="472.0" y="232.0" width="2.05" height="16.0" fill="#aaa" shape-rendering="crispEdges"/>
<rect x="474.0" y="232.0" width="2.05" height="16.0" fill="#555" shape-rendering="crispEdges"/>
<rect x="476.0" y="232.0" width="1.05" height="16.0" fill="#eee" shape-rendering="crispEdges"/>
<rect x="477.0" y="232.0" width="2.05" height="16.0" fill="#888" shape-rendering="crispEdges"/>
<rect x="479.0" y="232.0" width="2.05" height="16.0" fill="#222" shape-rendering="crispEdges"/>
<rect x="481.0" y="232.0" width="2.05" height="16.0" fill="#ccc" shape-rendering="crispEdges"/>
<rect x="483.0" y="232.0" width="1.05" height="16.0" fill="#999" shape-rendering="crispEdges"/>
<rect x="484.0" y="232.0" width="2.05" height="16.0" fill="#555" shape-rendering="crispEdges"/>
<rect x="486.0" y="232.0" width="2.05" height="16.0" fill="#444" shape-rendering="crispEdges"/>
<rect x="488.0" y="232.0" width="4.05" height="16.0" fill="#bbb" shape-rendering="crispEdges"/>
<rect x="492.0" y="232.0" width="1.55" height="16.0" fill="#222" shape-rendering="crispEdges"/>
<rect x="493.5" y="232.0" width="2.55" height="16.0" fill="#999" shape-rendering="crispEdges"/>
<rect x="496.0" y="232.0" width="4.05" height="16.0" fill="#111" shape-rendering="crispEdges"/>
<rect x="500.0" y="232.0" width="1.05" height="16.0" fill="#666" shape-rendering="crispEdges"/>
<rect x="501.0" y="232.0" width="2.05" height="16.0" fill="#111" shape-rendering="crispEdges"/>
<rect x="503.0" y="232.0" width="1.55" height="16.0" fill="#777" shape-rendering="crispEdges"/>
<rect x="504.5" y="232.0" width="3.05" height="16.0" fill="#111" shape-rendering="crispEdges"/>
<defs><linearGradient id="cb4" x1="0" y1="0" x2="1" y2="0"><stop offset="0" stop-color="#cf3a3e"/><stop offset="0.378" stop-color="#d6505a"/><stop offset="0.402" stop-color="#eeb0c0"/><stop offset="0.508" stop-color="#f0c4d4"/><stop offset="0.532" stop-color="#d8d4ee"/><stop offset="0.738" stop-color="#c6c6e6"/><stop offset="0.762" stop-color="#6666b4"/><stop offset="1" stop-color="#3e3e96"/></linearGradient></defs>
<rect x="398.3" y="248.0" width="109.19999999999999" height="4.199999999999989" fill="url(#cb4)"/>
<text x="398.8" y="254.79999999999998" font-size="2.6" fill="#c84848" textLength="32" lengthAdjust="spacingAndGlyphs">'SKH1' (positively correlated)</text>
<line x1="511.8" y1="252.2" x2="511.8" y2="286.8" stroke="#dcdcdc" stroke-width="0.6"/>
<polygon points="398.2,271.3 398.2,270 402,270.8 450,271.3 500,271.6 504,272.8 506.2,275 506.9,278.5 507.4,271.3" fill="#c8c8c8" stroke="#b0b0b0" stroke-width="0.4"/>
<line x1="397.8" y1="271.3" x2="507.5" y2="271.3" stroke="#aaa" stroke-width="0.6"/>
<line x1="450" y1="252.7" x2="450" y2="286.8" stroke="#e4e4e4" stroke-width="0.5"/>
<text x="439.5" y="272.3" font-size="3" fill="#444" textLength="23" lengthAdjust="spacingAndGlyphs">Zero cross at 4050</text>
<text x="454.5" y="286.3" font-size="2.6" fill="#6a6ab8" textLength="36" lengthAdjust="spacingAndGlyphs">'MM' (negatively correlated)</text>
<line x1="394.6" y1="256.9" x2="397.40000000000003" y2="256.9" stroke="#222" stroke-width="1.15"/>
<text x="393.2" y="258.7" font-size="5.2" text-anchor="end" fill="#1a1a1a" stroke="#1a1a1a" stroke-width="0.22">5.0</text>
<line x1="394.6" y1="264.1" x2="397.40000000000003" y2="264.1" stroke="#222" stroke-width="1.15"/>
<text x="393.2" y="265.90000000000003" font-size="5.2" text-anchor="end" fill="#1a1a1a" stroke="#1a1a1a" stroke-width="0.22">2.5</text>
<line x1="394.6" y1="271.3" x2="397.40000000000003" y2="271.3" stroke="#222" stroke-width="1.15"/>
<text x="393.2" y="273.1" font-size="5.2" text-anchor="end" fill="#1a1a1a" stroke="#1a1a1a" stroke-width="0.22">0.0</text>
<line x1="394.6" y1="278.7" x2="397.40000000000003" y2="278.7" stroke="#222" stroke-width="1.15"/>
<text x="393.2" y="280.5" font-size="5.2" text-anchor="end" fill="#1a1a1a" stroke="#1a1a1a" stroke-width="0.22">-2.5</text>
<text x="400.9" y="261.5" font-size="6.4" text-anchor="start" font-weight="bold" fill="#b43c3c" textLength="9.0" lengthAdjust="spacingAndGlyphs">KD</text>
<text x="498.2" y="259.9" font-size="6.4" text-anchor="start" font-weight="bold" fill="#26266a" textLength="10.2" lengthAdjust="spacingAndGlyphs">MM</text>
<line x1="397.8" y1="286.5" x2="397.8" y2="289.6" stroke="#333" stroke-width="0.8"/>
<text x="397.8" y="295.8" font-size="5.4" text-anchor="middle" fill="#1a1a1a" textLength="3.0" lengthAdjust="spacingAndGlyphs" stroke="#1a1a1a" stroke-width="0.22">0</text>
<line x1="423.7" y1="286.5" x2="423.7" y2="289.6" stroke="#333" stroke-width="0.8"/>
<text x="423.7" y="295.8" font-size="5.4" text-anchor="middle" fill="#1a1a1a" textLength="12.0" lengthAdjust="spacingAndGlyphs" stroke="#1a1a1a" stroke-width="0.22">2000</text>
<line x1="449.6" y1="286.5" x2="449.6" y2="289.6" stroke="#333" stroke-width="0.8"/>
<text x="449.6" y="295.8" font-size="5.4" text-anchor="middle" fill="#1a1a1a" textLength="12.0" lengthAdjust="spacingAndGlyphs" stroke="#1a1a1a" stroke-width="0.22">4000</text>
<line x1="475.5" y1="286.5" x2="475.5" y2="289.6" stroke="#333" stroke-width="0.8"/>
<text x="475.5" y="295.8" font-size="5.4" text-anchor="middle" fill="#1a1a1a" textLength="12.0" lengthAdjust="spacingAndGlyphs" stroke="#1a1a1a" stroke-width="0.22">6000</text>
<line x1="501.4" y1="286.5" x2="501.4" y2="289.6" stroke="#333" stroke-width="0.8"/>
<text x="501.4" y="295.8" font-size="5.4" text-anchor="middle" fill="#1a1a1a" textLength="12.0" lengthAdjust="spacingAndGlyphs" stroke="#1a1a1a" stroke-width="0.22">8000</text>
<text x="454.3" y="304.3" font-size="7.4" text-anchor="middle" fill="#1a1a1a" textLength="55.5" lengthAdjust="spacingAndGlyphs" stroke="#1a1a1a" stroke-width="0.1">Rank in ordered dataset</text>
<text x="471.2" y="188.1" font-size="5.6" text-anchor="start" fill="#222" textLength="29.5" lengthAdjust="spacingAndGlyphs" stroke="#222" stroke-width="0.16">NES = -2.57</text>
<text x="471.2" y="195.0" font-size="5.6" text-anchor="start" fill="#222" textLength="30" lengthAdjust="spacingAndGlyphs" stroke="#222" stroke-width="0.16">p,q &lt; 0.0001</text>
<text x="0" y="0" font-size="6.8" text-anchor="middle" fill="#1a1a1a" textLength="54" lengthAdjust="spacingAndGlyphs" stroke="#1a1a1a" stroke-width="0.22" transform="translate(380.3,205) rotate(-90)">Enrichment score (ES)</text>
<text x="0" y="0" font-size="6.8" text-anchor="middle" fill="#1a1a1a" textLength="42" lengthAdjust="spacingAndGlyphs" stroke="#1a1a1a" stroke-width="0.22" transform="translate(371.8,269) rotate(-90)">Ranked list metric</text>
<text x="0" y="0" font-size="6.8" text-anchor="middle" fill="#1a1a1a" textLength="51" lengthAdjust="spacingAndGlyphs" stroke="#1a1a1a" stroke-width="0.22" transform="translate(380.8,269) rotate(-90)">(Log2 of ratio classes)</text>
<line x1="302.7" y1="314" x2="310.8" y2="314" stroke="#9cbd6c" stroke-width="0.85"/>
<text x="313.3" y="316" font-size="5.8" text-anchor="start" fill="#333" textLength="41.3" lengthAdjust="spacingAndGlyphs" stroke="#333" stroke-width="0.16">Enrichment profile</text>
<line x1="363.3" y1="314" x2="370" y2="314" stroke="#111" stroke-width="0.95"/>
<text x="372.9" y="316" font-size="5.8" text-anchor="start" fill="#333" textLength="7.7" lengthAdjust="spacingAndGlyphs" stroke="#333" stroke-width="0.16">Hits</text>
<line x1="390.6" y1="314" x2="399.2" y2="314" stroke="#b8b8b8" stroke-width="0.85"/>
<text x="401.2" y="316" font-size="5.8" text-anchor="start" fill="#333" textLength="48.4" lengthAdjust="spacingAndGlyphs" stroke="#333" stroke-width="0.16">Ranking metric score</text>
<text x="7.8" y="343.0" font-size="11.6" text-anchor="start" font-weight="bold" fill="#000" stroke="#000" stroke-width="0.5">C</text>
<text x="118.6" y="351.4" font-size="10" text-anchor="start" font-weight="bold" fill="#000" textLength="92.4" lengthAdjust="spacingAndGlyphs" stroke="#000" stroke-width="0.35">Up-regulated genes</text>
<text x="341.6" y="353.4" font-size="10" text-anchor="start" font-weight="bold" fill="#000" textLength="105.2" lengthAdjust="spacingAndGlyphs" stroke="#000" stroke-width="0.35">Down-regulated genes</text>
<text x="10.6" y="418.4" font-size="9.6" text-anchor="start" font-weight="bold" fill="#000" textLength="43.1" lengthAdjust="spacingAndGlyphs" stroke="#000" stroke-width="0.35">Kasumi-1</text>
<text x="10.6" y="519.2" font-size="9.6" text-anchor="start" font-weight="bold" fill="#000" textLength="29.8" lengthAdjust="spacingAndGlyphs" stroke="#000" stroke-width="0.35">SKH-1</text>
<text x="137.5" y="371" font-size="7.4" text-anchor="start" fill="#333" textLength="43.4" lengthAdjust="spacingAndGlyphs" stroke="#333" stroke-width="0.16">p = 1.8 x 10</text>
<text x="181.20000000000002" y="366.8" font-size="4.6" text-anchor="start" fill="#333" textLength="10.9" lengthAdjust="spacingAndGlyphs" stroke="#333" stroke-width="0.16">-147</text>
<text x="62" y="389.1" font-size="8.3" text-anchor="start" fill="#333" textLength="46.8" lengthAdjust="spacingAndGlyphs" stroke="#333" stroke-width="0.16">C/EBPα-ER</text>
<text x="220.8" y="388.7" font-size="8.3" text-anchor="start" fill="#333" textLength="47.7" lengthAdjust="spacingAndGlyphs" stroke="#333" stroke-width="0.16">RUNX1-ETO</text>
<text x="220.8" y="398.6" font-size="8.3" text-anchor="start" fill="#333" textLength="44.4" lengthAdjust="spacingAndGlyphs" stroke="#333" stroke-width="0.16">knock-down</text>
<defs><clipPath id="vc1"><circle cx="146.1" cy="414.8" r="32.4"/></clipPath></defs>
<circle cx="146.1" cy="414.8" r="32.4" fill="#bf3c5c"/>
<circle cx="180.3" cy="415" r="35.0" fill="#8abae4"/>
<circle cx="180.3" cy="415" r="35.0" fill="#7d84be" clip-path="url(#vc1)"/>
<text x="132.1" y="418.1" font-size="8.6" text-anchor="middle" fill="#3a1426" textLength="14.4" lengthAdjust="spacingAndGlyphs" stroke="#3a1426" stroke-width="0.1">441</text>
<text x="161.6" y="418.1" font-size="8.6" text-anchor="middle" fill="#26284e" textLength="14.4" lengthAdjust="spacingAndGlyphs" stroke="#26284e" stroke-width="0.1">312</text>
<text x="193.2" y="418.1" font-size="8.6" text-anchor="middle" fill="#22304e" textLength="14.4" lengthAdjust="spacingAndGlyphs" stroke="#22304e" stroke-width="0.1">561</text>
<text x="368.5" y="373.1" font-size="7.4" text-anchor="start" fill="#333" textLength="43.8" lengthAdjust="spacingAndGlyphs" stroke="#333" stroke-width="0.16">p = 9.9 x 10</text>
<text x="412.6" y="368.90000000000003" font-size="4.6" text-anchor="start" fill="#333" textLength="5.9" lengthAdjust="spacingAndGlyphs" stroke="#333" stroke-width="0.16">-85</text>
<text x="291.7" y="391.8" font-size="8.3" text-anchor="start" fill="#333" textLength="47.1" lengthAdjust="spacingAndGlyphs" stroke="#333" stroke-width="0.16">C/EBPα-ER</text>
<text x="449.8" y="391.5" font-size="8.3" text-anchor="start" fill="#333" textLength="48.7" lengthAdjust="spacingAndGlyphs" stroke="#333" stroke-width="0.16">RUNX1-ETO</text>
<text x="449.8" y="401.7" font-size="8.3" text-anchor="start" fill="#333" textLength="44.2" lengthAdjust="spacingAndGlyphs" stroke="#333" stroke-width="0.16">knock-down</text>
<defs><clipPath id="vc2"><circle cx="376" cy="414.7" r="32.8"/></clipPath></defs>
<circle cx="376" cy="414.7" r="32.8" fill="#bf3c5c"/>
<circle cx="413.6" cy="414.7" r="31.0" fill="#8abae4"/>
<circle cx="413.6" cy="414.7" r="31.0" fill="#7d84be" clip-path="url(#vc2)"/>
<text x="362.5" y="418.3" font-size="8.6" text-anchor="middle" fill="#3a1426" textLength="14.4" lengthAdjust="spacingAndGlyphs" stroke="#3a1426" stroke-width="0.1">552</text>
<text x="395.2" y="418.3" font-size="8.6" text-anchor="middle" fill="#26284e" textLength="14.4" lengthAdjust="spacingAndGlyphs" stroke="#26284e" stroke-width="0.1">221</text>
<text x="427.8" y="418.3" font-size="8.6" text-anchor="middle" fill="#22304e" textLength="14.4" lengthAdjust="spacingAndGlyphs" stroke="#22304e" stroke-width="0.1">477</text>
<text x="138.7" y="473.5" font-size="7.4" text-anchor="start" fill="#333" textLength="43.1" lengthAdjust="spacingAndGlyphs" stroke="#333" stroke-width="0.16">p = 7.3 x 10</text>
<text x="182.10000000000002" y="469.3" font-size="4.6" text-anchor="start" fill="#333" textLength="7.1" lengthAdjust="spacingAndGlyphs" stroke="#333" stroke-width="0.16">-84</text>
<text x="62.4" y="491.5" font-size="8.3" text-anchor="start" fill="#333" textLength="46.4" lengthAdjust="spacingAndGlyphs" stroke="#333" stroke-width="0.16">C/EBPα-ER</text>
<text x="220.1" y="491.1" font-size="8.3" text-anchor="start" fill="#333" textLength="48.4" lengthAdjust="spacingAndGlyphs" stroke="#333" stroke-width="0.16">RUNX1-EVI1</text>
<text x="220.1" y="500.9" font-size="8.3" text-anchor="start" fill="#333" textLength="43.7" lengthAdjust="spacingAndGlyphs" stroke="#333" stroke-width="0.16">knock-down</text>
<defs><clipPath id="vc3"><circle cx="151.9" cy="519.8" r="37.9"/></clipPath></defs>
<circle cx="151.9" cy="519.8" r="37.9" fill="#bf3c5c"/>
<circle cx="190.2" cy="520" r="25.3" fill="#8abae4"/>
<circle cx="190.2" cy="520" r="25.3" fill="#7d84be" clip-path="url(#vc3)"/>
<text x="142.5" y="523.3" font-size="8.6" text-anchor="middle" fill="#3a1426" textLength="14.4" lengthAdjust="spacingAndGlyphs" stroke="#3a1426" stroke-width="0.1">848</text>
<text x="177.2" y="523.3" font-size="8.6" text-anchor="middle" fill="#26284e" textLength="14.4" lengthAdjust="spacingAndGlyphs" stroke="#26284e" stroke-width="0.1">193</text>
<text x="202.2" y="523.3" font-size="8.6" text-anchor="middle" fill="#22304e" textLength="14.4" lengthAdjust="spacingAndGlyphs" stroke="#22304e" stroke-width="0.1">261</text>
<text x="368.7" y="477.8" font-size="7.4" text-anchor="start" fill="#333" textLength="43.1" lengthAdjust="spacingAndGlyphs" stroke="#333" stroke-width="0.16">p = 2.1 x 10</text>
<text x="412.1" y="473.6" font-size="4.6" text-anchor="start" fill="#333" textLength="7.1" lengthAdjust="spacingAndGlyphs" stroke="#333" stroke-width="0.16">-62</text>
<text x="292" y="495.5" font-size="8.3" text-anchor="start" fill="#333" textLength="46.8" lengthAdjust="spacingAndGlyphs" stroke="#333" stroke-width="0.16">C/EBPα-ER</text>
<text x="450.1" y="495.2" font-size="8.3" text-anchor="start" fill="#333" textLength="47.8" lengthAdjust="spacingAndGlyphs" stroke="#333" stroke-width="0.16">RUNX1-EVI1</text>
<text x="450.1" y="504.9" font-size="8.3" text-anchor="start" fill="#333" textLength="43.7" lengthAdjust="spacingAndGlyphs" stroke="#333" stroke-width="0.16">knock-down</text>
<defs><clipPath id="vc4"><circle cx="378" cy="519.8" r="34.0"/></clipPath></defs>
<circle cx="378" cy="519.8" r="34.0" fill="#bf3c5c"/>
<circle cx="416.8" cy="520" r="28.0" fill="#8abae4"/>
<circle cx="416.8" cy="520" r="28.0" fill="#7d84be" clip-path="url(#vc4)"/>
<text x="362.3" y="523.2" font-size="8.6" text-anchor="middle" fill="#3a1426" textLength="14.4" lengthAdjust="spacingAndGlyphs" stroke="#3a1426" stroke-width="0.1">737</text>
<text x="400.8" y="523.2" font-size="8.6" text-anchor="middle" fill="#26284e" textLength="14.4" lengthAdjust="spacingAndGlyphs" stroke="#26284e" stroke-width="0.1">192</text>
<text x="428.6" y="523.2" font-size="8.6" text-anchor="middle" fill="#22304e" textLength="14.4" lengthAdjust="spacingAndGlyphs" stroke="#22304e" stroke-width="0.1">449</text>
<rect x="1.5" y="1.5" width="517" height="587" fill="none" stroke="#909090" stroke-width="1"/>
<rect x="0.5" y="0.5" width="519" height="589" fill="none" stroke="#000" stroke-width="1"/>
</svg></body></html>
